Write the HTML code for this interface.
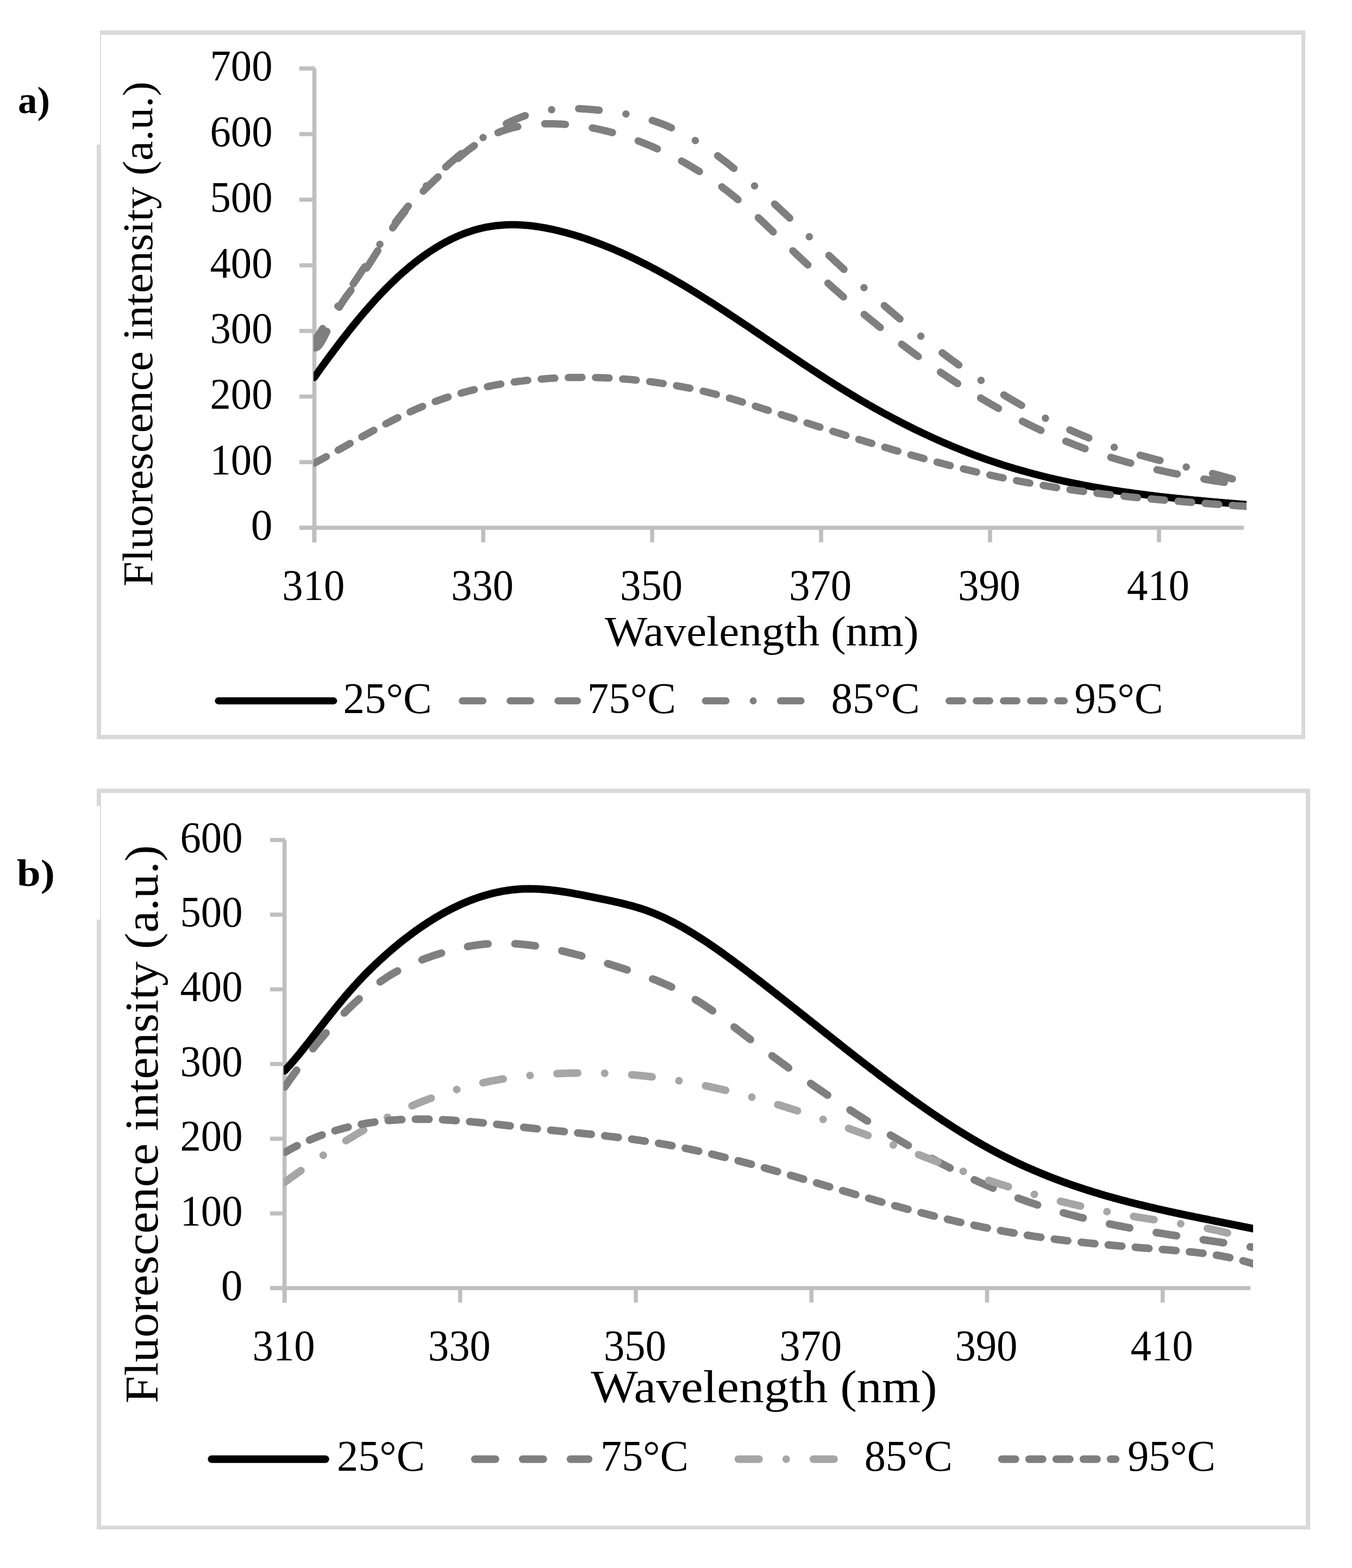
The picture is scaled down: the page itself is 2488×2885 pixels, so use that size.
<!DOCTYPE html>
<html><head><meta charset="utf-8"><title>Fluorescence spectra</title>
<style>html,body{margin:0;padding:0;background:#fff;overflow:hidden;}svg{display:block;}</style>
</head><body>
<svg width="2488" height="2885" viewBox="0 0 2488 2885" font-family="'Liberation Serif','Times New Roman',serif">
<rect width="2488" height="2885" fill="#fff"/>
<rect x="184" y="56" width="2218" height="8" fill="#d9d9d9"/>
<rect x="2395" y="56" width="7" height="1304" fill="#d9d9d9"/>
<rect x="178" y="1352" width="2224" height="8" fill="#d9d9d9"/>
<rect x="184" y="56" width="2" height="210" fill="#d9d9d9"/>
<rect x="178" y="266" width="8" height="1094" fill="#d9d9d9"/>
<rect x="178" y="1451" width="2233" height="8" fill="#d9d9d9"/>
<rect x="2403" y="1451" width="8" height="1363" fill="#d9d9d9"/>
<rect x="178" y="2807" width="2233" height="7" fill="#d9d9d9"/>
<rect x="178" y="1451" width="8" height="32" fill="#d9d9d9"/>
<rect x="184" y="1483" width="2" height="209" fill="#d9d9d9"/>
<rect x="178" y="1692" width="8" height="1122" fill="#d9d9d9"/>
<text x="33" y="207.5" font-size="70" text-anchor="start" font-weight="bold" textLength="59" lengthAdjust="spacingAndGlyphs">a)</text>
<text x="31" y="1630" font-size="70" text-anchor="start" font-weight="bold" textLength="70" lengthAdjust="spacingAndGlyphs">b)</text>
<line x1="578.5" y1="126.0" x2="578.5" y2="997.7" stroke="#bfbfbf" stroke-width="7.6"/>
<line x1="551" y1="971.0" x2="2289" y2="971.0" stroke="#bfbfbf" stroke-width="7.6"/>
<line x1="551" y1="971.0" x2="578.5" y2="971.0" stroke="#bfbfbf" stroke-width="7.6"/>
<line x1="551" y1="850.3" x2="578.5" y2="850.3" stroke="#bfbfbf" stroke-width="7.6"/>
<line x1="551" y1="729.6" x2="578.5" y2="729.6" stroke="#bfbfbf" stroke-width="7.6"/>
<line x1="551" y1="608.9" x2="578.5" y2="608.9" stroke="#bfbfbf" stroke-width="7.6"/>
<line x1="551" y1="488.2" x2="578.5" y2="488.2" stroke="#bfbfbf" stroke-width="7.6"/>
<line x1="551" y1="367.4" x2="578.5" y2="367.4" stroke="#bfbfbf" stroke-width="7.6"/>
<line x1="551" y1="246.7" x2="578.5" y2="246.7" stroke="#bfbfbf" stroke-width="7.6"/>
<line x1="551" y1="126.0" x2="579.5" y2="126.0" stroke="#bfbfbf" stroke-width="7.6"/>
<line x1="578.3" y1="971.0" x2="578.3" y2="997.7" stroke="#bfbfbf" stroke-width="7.6"/>
<line x1="889.2" y1="971.0" x2="889.2" y2="997.7" stroke="#bfbfbf" stroke-width="7.6"/>
<line x1="1200.1" y1="971.0" x2="1200.1" y2="997.7" stroke="#bfbfbf" stroke-width="7.6"/>
<line x1="1511.0" y1="971.0" x2="1511.0" y2="997.7" stroke="#bfbfbf" stroke-width="7.6"/>
<line x1="1821.9" y1="971.0" x2="1821.9" y2="997.7" stroke="#bfbfbf" stroke-width="7.6"/>
<line x1="2132.8" y1="971.0" x2="2132.8" y2="997.7" stroke="#bfbfbf" stroke-width="7.6"/>
<text x="501.5" y="993.3" font-size="79.5" text-anchor="end">0</text>
<text x="501.5" y="872.6" font-size="79.5" text-anchor="end" textLength="115" lengthAdjust="spacingAndGlyphs">100</text>
<text x="501.5" y="751.9" font-size="79.5" text-anchor="end" textLength="115" lengthAdjust="spacingAndGlyphs">200</text>
<text x="501.5" y="631.2" font-size="79.5" text-anchor="end" textLength="115" lengthAdjust="spacingAndGlyphs">300</text>
<text x="501.5" y="510.5" font-size="79.5" text-anchor="end" textLength="115" lengthAdjust="spacingAndGlyphs">400</text>
<text x="501.5" y="389.7" font-size="79.5" text-anchor="end" textLength="115" lengthAdjust="spacingAndGlyphs">500</text>
<text x="501.5" y="269.0" font-size="79.5" text-anchor="end" textLength="115" lengthAdjust="spacingAndGlyphs">600</text>
<text x="501.5" y="148.3" font-size="79.5" text-anchor="end" textLength="115" lengthAdjust="spacingAndGlyphs">700</text>
<text x="576.8" y="1104" font-size="79.5" text-anchor="middle" textLength="115" lengthAdjust="spacingAndGlyphs">310</text>
<text x="887.7" y="1104" font-size="79.5" text-anchor="middle" textLength="115" lengthAdjust="spacingAndGlyphs">330</text>
<text x="1198.6" y="1104" font-size="79.5" text-anchor="middle" textLength="115" lengthAdjust="spacingAndGlyphs">350</text>
<text x="1509.5" y="1104" font-size="79.5" text-anchor="middle" textLength="115" lengthAdjust="spacingAndGlyphs">370</text>
<text x="1820.4" y="1104" font-size="79.5" text-anchor="middle" textLength="115" lengthAdjust="spacingAndGlyphs">390</text>
<text x="2131.3" y="1104" font-size="79.5" text-anchor="middle" textLength="115" lengthAdjust="spacingAndGlyphs">410</text>
<clipPath id="ca"><rect x="577" y="100" width="1717" height="900"/></clipPath>
<g clip-path="url(#ca)" fill="none" stroke-linecap="round" stroke-linejoin="round" stroke-width="13.5">
<path d="M578.3,694.5 581.3,690.3 584.3,686.1 587.3,681.9 590.3,677.7 593.3,673.6 596.3,669.4 599.3,665.3 602.3,661.2 605.3,657.1 608.3,653.0 611.4,649.0 614.4,645.0 617.4,641.0 620.4,637.0 623.4,633.1 626.4,629.1 629.4,625.2 632.4,621.3 635.4,617.5 638.4,613.7 641.4,609.8 644.4,606.1 647.4,602.3 650.4,598.6 653.4,594.9 656.4,591.2 659.4,587.6 662.4,584.0 665.4,580.4 668.4,576.9 671.4,573.4 674.5,569.9 677.5,566.4 680.5,563.0 683.5,559.6 686.5,556.3 689.5,552.9 692.5,549.7 695.5,546.4 698.5,543.2 701.5,540.0 704.5,536.9 707.5,533.8 710.5,530.7 713.5,527.7 716.5,524.7 719.5,521.7 722.5,518.8 725.5,516.0 728.5,513.1 731.5,510.3 734.5,507.6 737.6,504.8 740.6,502.1 743.6,499.5 746.6,496.9 749.6,494.3 752.6,491.8 755.6,489.3 758.6,486.9 761.6,484.4 764.6,482.1 767.6,479.7 770.6,477.4 773.6,475.2 776.6,473.0 779.6,470.8 782.6,468.7 785.6,466.6 788.6,464.5 791.6,462.5 794.6,460.5 797.6,458.6 800.6,456.7 803.7,454.8 806.7,453.0 809.7,451.2 812.7,449.5 815.7,447.8 818.7,446.1 821.7,444.5 824.7,443.0 827.7,441.4 830.7,439.9 833.7,438.5 836.7,437.1 839.7,435.7 842.7,434.4 845.7,433.1 848.7,431.9 851.7,430.6 854.7,429.5 857.7,428.4 860.7,427.3 863.7,426.3 866.8,425.3 869.8,424.3 872.8,423.4 875.8,422.5 878.8,421.7 881.8,420.9 884.8,420.2 887.8,419.5 890.8,418.8 893.8,418.2 896.8,417.6 899.8,417.1 902.8,416.6 905.8,416.1 908.8,415.7 911.8,415.3 914.8,415.0 917.8,414.7 920.8,414.4 923.8,414.2 926.8,414.0 929.9,413.8 932.9,413.7 935.9,413.6 938.9,413.5 941.9,413.5 944.9,413.5 947.9,413.5 950.9,413.6 953.9,413.7 956.9,413.8 959.9,414.0 962.9,414.2 965.9,414.4 968.9,414.6 971.9,414.9 974.9,415.2 977.9,415.5 980.9,415.9 983.9,416.3 986.9,416.7 989.9,417.1 993.0,417.6 996.0,418.1 999.0,418.6 1002.0,419.1 1005.0,419.7 1008.0,420.3 1011.0,420.9 1014.0,421.5 1017.0,422.1 1020.0,422.8 1023.0,423.5 1026.0,424.2 1029.0,424.9 1032.0,425.7 1035.0,426.4 1038.0,427.2 1041.0,428.0 1044.0,428.8 1047.0,429.7 1050.0,430.5 1053.0,431.4 1056.1,432.3 1059.1,433.2 1062.1,434.1 1065.1,435.0 1068.1,436.0 1071.1,437.0 1074.1,437.9 1077.1,438.9 1080.1,440.0 1083.1,441.0 1086.1,442.0 1089.1,443.1 1092.1,444.2 1095.1,445.3 1098.1,446.4 1101.1,447.5 1104.1,448.7 1107.1,449.8 1110.1,451.0 1113.1,452.2 1116.1,453.4 1119.2,454.6 1122.2,455.8 1125.2,457.1 1128.2,458.3 1131.2,459.6 1134.2,460.9 1137.2,462.2 1140.2,463.5 1143.2,464.8 1146.2,466.2 1149.2,467.5 1152.2,468.9 1155.2,470.3 1158.2,471.7 1161.2,473.1 1164.2,474.5 1167.2,476.0 1170.2,477.4 1173.2,478.9 1176.2,480.4 1179.2,481.8 1182.3,483.4 1185.3,484.9 1188.3,486.4 1191.3,487.9 1194.3,489.5 1197.3,491.0 1200.3,492.6 1203.3,494.2 1206.3,495.8 1209.3,497.4 1212.3,499.0 1215.3,500.7 1218.3,502.3 1221.3,504.0 1224.3,505.6 1227.3,507.3 1230.3,509.0 1233.3,510.7 1236.3,512.4 1239.3,514.1 1242.3,515.8 1245.3,517.6 1248.4,519.3 1251.4,521.1 1254.4,522.9 1257.4,524.6 1260.4,526.4 1263.4,528.2 1266.4,530.0 1269.4,531.8 1272.4,533.7 1275.4,535.5 1278.4,537.4 1281.4,539.2 1284.4,541.1 1287.4,542.9 1290.4,544.8 1293.4,546.7 1296.4,548.6 1299.4,550.5 1302.4,552.4 1305.4,554.3 1308.4,556.2 1311.5,558.1 1314.5,560.0 1317.5,562.0 1320.5,563.9 1323.5,565.9 1326.5,567.8 1329.5,569.8 1332.5,571.7 1335.5,573.7 1338.5,575.7 1341.5,577.7 1344.5,579.6 1347.5,581.6 1350.5,583.6 1353.5,585.6 1356.5,587.6 1359.5,589.6 1362.5,591.6 1365.5,593.6 1368.5,595.6 1371.5,597.7 1374.6,599.7 1377.6,601.7 1380.6,603.7 1383.6,605.7 1386.6,607.8 1389.6,609.8 1392.6,611.8 1395.6,613.9 1398.6,615.9 1401.6,617.9 1404.6,620.0 1407.6,622.0 1410.6,624.0 1413.6,626.1 1416.6,628.1 1419.6,630.1 1422.6,632.2 1425.6,634.2 1428.6,636.2 1431.6,638.3 1434.6,640.3 1437.7,642.3 1440.7,644.4 1443.7,646.4 1446.7,648.4 1449.7,650.4 1452.7,652.5 1455.7,654.5 1458.7,656.5 1461.7,658.5 1464.7,660.5 1467.7,662.5 1470.7,664.6 1473.7,666.6 1476.7,668.6 1479.7,670.6 1482.7,672.5 1485.7,674.5 1488.7,676.5 1491.7,678.5 1494.7,680.5 1497.7,682.4 1500.8,684.4 1503.8,686.4 1506.8,688.3 1509.8,690.3 1512.8,692.2 1515.8,694.2 1518.8,696.1 1521.8,698.0 1524.8,700.0 1527.8,701.9 1530.8,703.8 1533.8,705.7 1536.8,707.6 1539.8,709.5 1542.8,711.3 1545.8,713.2 1548.8,715.1 1551.8,716.9 1554.8,718.8 1557.8,720.6 1560.8,722.4 1563.9,724.3 1566.9,726.1 1569.9,727.9 1572.9,729.7 1575.9,731.5 1578.9,733.3 1581.9,735.0 1584.9,736.8 1587.9,738.5 1590.9,740.3 1593.9,742.0 1596.9,743.8 1599.9,745.5 1602.9,747.2 1605.9,748.9 1608.9,750.6 1611.9,752.3 1614.9,753.9 1617.9,755.6 1620.9,757.3 1623.9,758.9 1627.0,760.6 1630.0,762.2 1633.0,763.8 1636.0,765.4 1639.0,767.0 1642.0,768.6 1645.0,770.2 1648.0,771.8 1651.0,773.4 1654.0,774.9 1657.0,776.5 1660.0,778.0 1663.0,779.6 1666.0,781.1 1669.0,782.6 1672.0,784.1 1675.0,785.6 1678.0,787.1 1681.0,788.6 1684.0,790.1 1687.0,791.5 1690.0,793.0 1693.1,794.4 1696.1,795.9 1699.1,797.3 1702.1,798.7 1705.1,800.1 1708.1,801.5 1711.1,802.9 1714.1,804.3 1717.1,805.6 1720.1,807.0 1723.1,808.4 1726.1,809.7 1729.1,811.0 1732.1,812.4 1735.1,813.7 1738.1,815.0 1741.1,816.3 1744.1,817.6 1747.1,818.8 1750.1,820.1 1753.1,821.4 1756.2,822.6 1759.2,823.9 1762.2,825.1 1765.2,826.3 1768.2,827.5 1771.2,828.7 1774.2,829.9 1777.2,831.1 1780.2,832.3 1783.2,833.4 1786.2,834.6 1789.2,835.7 1792.2,836.9 1795.2,838.0 1798.2,839.1 1801.2,840.2 1804.2,841.3 1807.2,842.4 1810.2,843.5 1813.2,844.5 1816.2,845.6 1819.3,846.6 1822.3,847.7 1825.3,848.7 1828.3,849.7 1831.3,850.7 1834.3,851.7 1837.3,852.7 1840.3,853.7 1843.3,854.7 1846.3,855.6 1849.3,856.6 1852.3,857.5 1855.3,858.4 1858.3,859.4 1861.3,860.3 1864.3,861.2 1867.3,862.1 1870.3,863.0 1873.3,863.8 1876.3,864.7 1879.3,865.6 1882.4,866.4 1885.4,867.3 1888.4,868.1 1891.4,868.9 1894.4,869.8 1897.4,870.6 1900.4,871.4 1903.4,872.2 1906.4,872.9 1909.4,873.7 1912.4,874.5 1915.4,875.3 1918.4,876.0 1921.4,876.8 1924.4,877.5 1927.4,878.2 1930.4,879.0 1933.4,879.7 1936.4,880.4 1939.4,881.1 1942.4,881.8 1945.5,882.5 1948.5,883.1 1951.5,883.8 1954.5,884.5 1957.5,885.1 1960.5,885.8 1963.5,886.4 1966.5,887.1 1969.5,887.7 1972.5,888.3 1975.5,888.9 1978.5,889.5 1981.5,890.1 1984.5,890.7 1987.5,891.3 1990.5,891.9 1993.5,892.5 1996.5,893.1 1999.5,893.6 2002.5,894.2 2005.5,894.7 2008.6,895.3 2011.6,895.8 2014.6,896.4 2017.6,896.9 2020.6,897.4 2023.6,897.9 2026.6,898.4 2029.6,898.9 2032.6,899.4 2035.6,899.9 2038.6,900.4 2041.6,900.9 2044.6,901.4 2047.6,901.9 2050.6,902.3 2053.6,902.8 2056.6,903.2 2059.6,903.7 2062.6,904.1 2065.6,904.6 2068.6,905.0 2071.7,905.5 2074.7,905.9 2077.7,906.3 2080.7,906.7 2083.7,907.1 2086.7,907.6 2089.7,908.0 2092.7,908.4 2095.7,908.8 2098.7,909.2 2101.7,909.5 2104.7,909.9 2107.7,910.3 2110.7,910.7 2113.7,911.1 2116.7,911.4 2119.7,911.8 2122.7,912.2 2125.7,912.5 2128.7,912.9 2131.7,913.2 2134.7,913.6 2137.8,913.9 2140.8,914.2 2143.8,914.6 2146.8,914.9 2149.8,915.3 2152.8,915.6 2155.8,915.9 2158.8,916.2 2161.8,916.5 2164.8,916.9 2167.8,917.2 2170.8,917.5 2173.8,917.8 2176.8,918.1 2179.8,918.4 2182.8,918.7 2185.8,919.0 2188.8,919.3 2191.8,919.6 2194.8,919.9 2197.8,920.2 2200.9,920.4 2203.9,920.7 2206.9,921.0 2209.9,921.3 2212.9,921.6 2215.9,921.8 2218.9,922.1 2221.9,922.4 2224.9,922.7 2227.9,922.9 2230.9,923.2 2233.9,923.5 2236.9,923.7 2239.9,924.0 2242.9,924.3 2245.9,924.5 2248.9,924.8 2251.9,925.0 2254.9,925.3 2257.9,925.5 2260.9,925.8 2264.0,926.1 2267.0,926.3 2270.0,926.6 2273.0,926.8 2276.0,927.1 2279.0,927.3 2282.0,927.6 2285.0,927.8 2288.0,928.1 2291.0,928.3 2294.0,928.6" stroke="#000"/>
<path d="M578.3,640.0 581.3,640.0 584.3,638.3 587.3,635.3 590.3,631.1 593.3,626.1 596.3,620.4 599.3,614.3 602.3,608.1 605.3,601.8 608.3,595.7 611.4,589.6 614.4,583.7 617.4,577.9 620.4,572.3 623.4,567.0 626.4,561.9 629.4,557.1 632.4,552.5 635.4,548.2 638.4,544.0 641.4,540.0 644.4,536.0 647.4,532.1 650.4,528.1 653.4,524.1 656.4,520.0 659.4,515.8 662.4,511.5 665.4,507.1 668.4,502.6 671.4,498.1 674.5,493.6 677.5,489.0 680.5,484.3 683.5,479.6 686.5,474.9 689.5,470.2 692.5,465.4 695.5,460.7 698.5,456.0 701.5,451.3 704.5,446.6 707.5,441.9 710.5,437.3 713.5,432.7 716.5,428.2 719.5,423.8 722.5,419.4 725.5,415.1 728.5,410.9 731.5,406.8 734.5,402.7 737.6,398.8 740.6,394.9 743.6,391.2 746.6,387.5 749.6,383.8 752.6,380.3 755.6,376.8 758.6,373.4 761.6,370.1 764.6,366.8 767.6,363.5 770.6,360.3 773.6,357.2 776.6,354.1 779.6,351.1 782.6,348.1 785.6,345.1 788.6,342.1 791.6,339.2 794.6,336.3 797.6,333.4 800.6,330.6 803.7,327.7 806.7,324.9 809.7,322.1 812.7,319.2 815.7,316.4 818.7,313.6 821.7,310.8 824.7,308.0 827.7,305.2 830.7,302.5 833.7,299.8 836.7,297.1 839.7,294.4 842.7,291.8 845.7,289.2 848.7,286.6 851.7,284.1 854.7,281.6 857.7,279.2 860.7,276.8 863.7,274.5 866.8,272.3 869.8,270.1 872.8,267.9 875.8,265.8 878.8,263.8 881.8,261.9 884.8,260.0 887.8,258.2 890.8,256.5 893.8,254.8 896.8,253.2 899.8,251.6 902.8,250.1 905.8,248.7 908.8,247.3 911.8,246.0 914.8,244.7 917.8,243.5 920.8,242.3 923.8,241.2 926.8,240.2 929.9,239.1 932.9,238.2 935.9,237.3 938.9,236.4 941.9,235.6 944.9,234.8 947.9,234.1 950.9,233.4 953.9,232.8 956.9,232.2 959.9,231.7 962.9,231.1 965.9,230.7 968.9,230.2 971.9,229.8 974.9,229.5 977.9,229.2 980.9,228.9 983.9,228.6 986.9,228.4 989.9,228.2 993.0,228.0 996.0,227.9 999.0,227.8 1002.0,227.7 1005.0,227.7 1008.0,227.7 1011.0,227.7 1014.0,227.7 1017.0,227.8 1020.0,227.8 1023.0,227.9 1026.0,228.1 1029.0,228.2 1032.0,228.3 1035.0,228.5 1038.0,228.7 1041.0,228.9 1044.0,229.2 1047.0,229.4 1050.0,229.7 1053.0,230.0 1056.1,230.4 1059.1,230.7 1062.1,231.1 1065.1,231.4 1068.1,231.8 1071.1,232.3 1074.1,232.7 1077.1,233.2 1080.1,233.7 1083.1,234.2 1086.1,234.7 1089.1,235.3 1092.1,235.8 1095.1,236.4 1098.1,237.0 1101.1,237.7 1104.1,238.3 1107.1,239.0 1110.1,239.7 1113.1,240.4 1116.1,241.1 1119.2,241.9 1122.2,242.6 1125.2,243.4 1128.2,244.2 1131.2,245.1 1134.2,245.9 1137.2,246.8 1140.2,247.7 1143.2,248.6 1146.2,249.5 1149.2,250.5 1152.2,251.4 1155.2,252.4 1158.2,253.4 1161.2,254.5 1164.2,255.5 1167.2,256.6 1170.2,257.7 1173.2,258.8 1176.2,259.9 1179.2,261.1 1182.3,262.3 1185.3,263.5 1188.3,264.7 1191.3,265.9 1194.3,267.2 1197.3,268.4 1200.3,269.7 1203.3,271.0 1206.3,272.4 1209.3,273.7 1212.3,275.1 1215.3,276.5 1218.3,277.9 1221.3,279.3 1224.3,280.8 1227.3,282.2 1230.3,283.7 1233.3,285.2 1236.3,286.8 1239.3,288.3 1242.3,289.9 1245.3,291.5 1248.4,293.1 1251.4,294.7 1254.4,296.3 1257.4,298.0 1260.4,299.7 1263.4,301.4 1266.4,303.1 1269.4,304.9 1272.4,306.6 1275.4,308.4 1278.4,310.2 1281.4,312.1 1284.4,313.9 1287.4,315.8 1290.4,317.7 1293.4,319.6 1296.4,321.6 1299.4,323.6 1302.4,325.6 1305.4,327.6 1308.4,329.6 1311.5,331.7 1314.5,333.8 1317.5,335.9 1320.5,338.1 1323.5,340.3 1326.5,342.5 1329.5,344.7 1332.5,347.0 1335.5,349.2 1338.5,351.5 1341.5,353.9 1344.5,356.3 1347.5,358.7 1350.5,361.1 1353.5,363.5 1356.5,366.0 1359.5,368.5 1362.5,371.1 1365.5,373.6 1368.5,376.2 1371.5,378.9 1374.6,381.5 1377.6,384.2 1380.6,386.9 1383.6,389.6 1386.6,392.4 1389.6,395.1 1392.6,397.9 1395.6,400.7 1398.6,403.5 1401.6,406.3 1404.6,409.2 1407.6,412.0 1410.6,414.9 1413.6,417.8 1416.6,420.6 1419.6,423.5 1422.6,426.4 1425.6,429.3 1428.6,432.2 1431.6,435.1 1434.6,438.0 1437.7,440.9 1440.7,443.8 1443.7,446.7 1446.7,449.6 1449.7,452.5 1452.7,455.4 1455.7,458.3 1458.7,461.1 1461.7,464.0 1464.7,466.9 1467.7,469.7 1470.7,472.5 1473.7,475.4 1476.7,478.2 1479.7,481.0 1482.7,483.8 1485.7,486.6 1488.7,489.4 1491.7,492.1 1494.7,494.9 1497.7,497.7 1500.8,500.4 1503.8,503.2 1506.8,505.9 1509.8,508.6 1512.8,511.3 1515.8,514.1 1518.8,516.8 1521.8,519.4 1524.8,522.1 1527.8,524.8 1530.8,527.5 1533.8,530.1 1536.8,532.8 1539.8,535.4 1542.8,538.0 1545.8,540.7 1548.8,543.3 1551.8,545.9 1554.8,548.5 1557.8,551.1 1560.8,553.6 1563.9,556.2 1566.9,558.8 1569.9,561.3 1572.9,563.9 1575.9,566.4 1578.9,568.9 1581.9,571.5 1584.9,574.0 1587.9,576.5 1590.9,579.0 1593.9,581.4 1596.9,583.9 1599.9,586.4 1602.9,588.8 1605.9,591.3 1608.9,593.7 1611.9,596.1 1614.9,598.6 1617.9,601.0 1620.9,603.4 1623.9,605.8 1627.0,608.2 1630.0,610.5 1633.0,612.9 1636.0,615.3 1639.0,617.6 1642.0,619.9 1645.0,622.3 1648.0,624.6 1651.0,626.9 1654.0,629.2 1657.0,631.5 1660.0,633.8 1663.0,636.1 1666.0,638.3 1669.0,640.6 1672.0,642.8 1675.0,645.1 1678.0,647.3 1681.0,649.5 1684.0,651.7 1687.0,653.9 1690.0,656.1 1693.1,658.3 1696.1,660.5 1699.1,662.6 1702.1,664.8 1705.1,666.9 1708.1,669.1 1711.1,671.2 1714.1,673.3 1717.1,675.4 1720.1,677.5 1723.1,679.6 1726.1,681.7 1729.1,683.7 1732.1,685.8 1735.1,687.8 1738.1,689.9 1741.1,691.9 1744.1,693.9 1747.1,695.9 1750.1,697.9 1753.1,699.9 1756.2,701.9 1759.2,703.8 1762.2,705.8 1765.2,707.7 1768.2,709.7 1771.2,711.6 1774.2,713.5 1777.2,715.4 1780.2,717.3 1783.2,719.2 1786.2,721.1 1789.2,722.9 1792.2,724.8 1795.2,726.6 1798.2,728.5 1801.2,730.3 1804.2,732.1 1807.2,733.9 1810.2,735.7 1813.2,737.5 1816.2,739.3 1819.3,741.0 1822.3,742.8 1825.3,744.5 1828.3,746.2 1831.3,748.0 1834.3,749.7 1837.3,751.4 1840.3,753.1 1843.3,754.7 1846.3,756.4 1849.3,758.0 1852.3,759.7 1855.3,761.3 1858.3,762.9 1861.3,764.6 1864.3,766.2 1867.3,767.8 1870.3,769.3 1873.3,770.9 1876.3,772.5 1879.3,774.0 1882.4,775.5 1885.4,777.1 1888.4,778.6 1891.4,780.1 1894.4,781.6 1897.4,783.0 1900.4,784.5 1903.4,786.0 1906.4,787.4 1909.4,788.8 1912.4,790.3 1915.4,791.7 1918.4,793.1 1921.4,794.5 1924.4,795.9 1927.4,797.2 1930.4,798.6 1933.4,799.9 1936.4,801.3 1939.4,802.6 1942.4,803.9 1945.5,805.2 1948.5,806.5 1951.5,807.7 1954.5,809.0 1957.5,810.3 1960.5,811.5 1963.5,812.7 1966.5,813.9 1969.5,815.1 1972.5,816.3 1975.5,817.5 1978.5,818.7 1981.5,819.9 1984.5,821.0 1987.5,822.1 1990.5,823.3 1993.5,824.4 1996.5,825.5 1999.5,826.6 2002.5,827.6 2005.5,828.7 2008.6,829.8 2011.6,830.8 2014.6,831.8 2017.6,832.9 2020.6,833.9 2023.6,834.9 2026.6,835.9 2029.6,836.9 2032.6,837.8 2035.6,838.8 2038.6,839.8 2041.6,840.7 2044.6,841.6 2047.6,842.6 2050.6,843.5 2053.6,844.4 2056.6,845.3 2059.6,846.2 2062.6,847.0 2065.6,847.9 2068.6,848.8 2071.7,849.6 2074.7,850.5 2077.7,851.3 2080.7,852.1 2083.7,852.9 2086.7,853.7 2089.7,854.5 2092.7,855.3 2095.7,856.1 2098.7,856.9 2101.7,857.6 2104.7,858.4 2107.7,859.1 2110.7,859.9 2113.7,860.6 2116.7,861.3 2119.7,862.0 2122.7,862.8 2125.7,863.5 2128.7,864.1 2131.7,864.8 2134.7,865.5 2137.8,866.2 2140.8,866.9 2143.8,867.5 2146.8,868.2 2149.8,868.8 2152.8,869.4 2155.8,870.1 2158.8,870.7 2161.8,871.3 2164.8,871.9 2167.8,872.5 2170.8,873.1 2173.8,873.7 2176.8,874.3 2179.8,874.9 2182.8,875.5 2185.8,876.1 2188.8,876.6 2191.8,877.2 2194.8,877.7 2197.8,878.3 2200.9,878.8 2203.9,879.4 2206.9,879.9 2209.9,880.4 2212.9,881.0 2215.9,881.5 2218.9,882.0 2221.9,882.5 2224.9,883.0 2227.9,883.5 2230.9,884.0 2233.9,884.5 2236.9,885.0 2239.9,885.5 2242.9,885.9 2245.9,886.4 2248.9,886.9 2251.9,887.4 2254.9,887.8 2257.9,888.3 2260.9,888.7 2264.0,889.2 2267.0,889.6 2270.0,890.1 2273.0,890.5 2276.0,891.0 2279.0,891.4 2282.0,891.9 2285.0,892.3 2288.0,892.7 2291.0,893.1 2294.0,893.6" stroke="#7f7f7f" stroke-dasharray="38 50" stroke-dashoffset="86.0"/>
<path d="M578.3,627.9 581.3,623.3 584.3,618.7 587.3,614.2 590.3,609.7 593.3,605.2 596.3,600.7 599.3,596.3 602.3,591.8 605.3,587.4 608.3,583.0 611.4,578.7 614.4,574.3 617.4,569.9 620.4,565.6 623.4,561.2 626.4,556.9 629.4,552.6 632.4,548.2 635.4,543.9 638.4,539.5 641.4,535.1 644.4,530.8 647.4,526.4 650.4,521.9 653.4,517.5 656.4,513.1 659.4,508.6 662.4,504.1 665.4,499.6 668.4,495.1 671.4,490.6 674.5,486.1 677.5,481.6 680.5,477.1 683.5,472.6 686.5,468.1 689.5,463.6 692.5,459.2 695.5,454.7 698.5,450.3 701.5,445.9 704.5,441.6 707.5,437.2 710.5,432.9 713.5,428.7 716.5,424.4 719.5,420.2 722.5,416.1 725.5,412.0 728.5,408.0 731.5,404.0 734.5,400.1 737.6,396.2 740.6,392.4 743.6,388.6 746.6,384.9 749.6,381.2 752.6,377.6 755.6,374.0 758.6,370.5 761.6,367.0 764.6,363.6 767.6,360.2 770.6,356.9 773.6,353.6 776.6,350.3 779.6,347.1 782.6,343.9 785.6,340.8 788.6,337.7 791.6,334.6 794.6,331.6 797.6,328.6 800.6,325.7 803.7,322.8 806.7,319.9 809.7,317.0 812.7,314.2 815.7,311.4 818.7,308.7 821.7,306.0 824.7,303.3 827.7,300.6 830.7,298.0 833.7,295.4 836.7,292.8 839.7,290.3 842.7,287.8 845.7,285.3 848.7,282.9 851.7,280.5 854.7,278.1 857.7,275.8 860.7,273.4 863.7,271.1 866.8,268.9 869.8,266.6 872.8,264.4 875.8,262.3 878.8,260.1 881.8,258.0 884.8,255.9 887.8,253.8 890.8,251.8 893.8,249.8 896.8,247.9 899.8,245.9 902.8,244.0 905.8,242.2 908.8,240.4 911.8,238.6 914.8,236.8 917.8,235.1 920.8,233.4 923.8,231.8 926.8,230.1 929.9,228.6 932.9,227.1 935.9,225.6 938.9,224.1 941.9,222.7 944.9,221.3 947.9,220.0 950.9,218.7 953.9,217.5 956.9,216.3 959.9,215.2 962.9,214.1 965.9,213.0 968.9,212.0 971.9,211.0 974.9,210.1 977.9,209.2 980.9,208.4 983.9,207.6 986.9,206.9 989.9,206.2 993.0,205.5 996.0,204.9 999.0,204.3 1002.0,203.8 1005.0,203.3 1008.0,202.8 1011.0,202.4 1014.0,202.0 1017.0,201.6 1020.0,201.3 1023.0,201.0 1026.0,200.7 1029.0,200.5 1032.0,200.3 1035.0,200.1 1038.0,200.0 1041.0,199.9 1044.0,199.8 1047.0,199.8 1050.0,199.7 1053.0,199.7 1056.1,199.8 1059.1,199.8 1062.1,199.9 1065.1,200.0 1068.1,200.1 1071.1,200.2 1074.1,200.4 1077.1,200.5 1080.1,200.7 1083.1,201.0 1086.1,201.2 1089.1,201.4 1092.1,201.7 1095.1,202.0 1098.1,202.3 1101.1,202.6 1104.1,202.9 1107.1,203.2 1110.1,203.5 1113.1,203.9 1116.1,204.2 1119.2,204.6 1122.2,205.0 1125.2,205.4 1128.2,205.8 1131.2,206.3 1134.2,206.7 1137.2,207.2 1140.2,207.6 1143.2,208.1 1146.2,208.6 1149.2,209.2 1152.2,209.7 1155.2,210.3 1158.2,210.9 1161.2,211.5 1164.2,212.1 1167.2,212.8 1170.2,213.5 1173.2,214.2 1176.2,214.9 1179.2,215.6 1182.3,216.4 1185.3,217.2 1188.3,218.1 1191.3,218.9 1194.3,219.8 1197.3,220.7 1200.3,221.6 1203.3,222.6 1206.3,223.6 1209.3,224.7 1212.3,225.7 1215.3,226.8 1218.3,227.9 1221.3,229.1 1224.3,230.3 1227.3,231.5 1230.3,232.8 1233.3,234.1 1236.3,235.4 1239.3,236.8 1242.3,238.2 1245.3,239.7 1248.4,241.2 1251.4,242.7 1254.4,244.2 1257.4,245.8 1260.4,247.5 1263.4,249.1 1266.4,250.8 1269.4,252.6 1272.4,254.3 1275.4,256.1 1278.4,257.9 1281.4,259.8 1284.4,261.7 1287.4,263.6 1290.4,265.6 1293.4,267.5 1296.4,269.5 1299.4,271.6 1302.4,273.6 1305.4,275.7 1308.4,277.8 1311.5,279.9 1314.5,282.1 1317.5,284.3 1320.5,286.5 1323.5,288.7 1326.5,291.0 1329.5,293.3 1332.5,295.6 1335.5,297.9 1338.5,300.2 1341.5,302.6 1344.5,305.0 1347.5,307.4 1350.5,309.8 1353.5,312.2 1356.5,314.7 1359.5,317.2 1362.5,319.7 1365.5,322.2 1368.5,324.7 1371.5,327.3 1374.6,329.8 1377.6,332.4 1380.6,335.0 1383.6,337.6 1386.6,340.2 1389.6,342.9 1392.6,345.5 1395.6,348.2 1398.6,350.9 1401.6,353.6 1404.6,356.3 1407.6,359.0 1410.6,361.7 1413.6,364.4 1416.6,367.2 1419.6,369.9 1422.6,372.7 1425.6,375.5 1428.6,378.3 1431.6,381.1 1434.6,383.9 1437.7,386.7 1440.7,389.5 1443.7,392.3 1446.7,395.1 1449.7,397.9 1452.7,400.8 1455.7,403.6 1458.7,406.5 1461.7,409.3 1464.7,412.2 1467.7,415.0 1470.7,417.9 1473.7,420.7 1476.7,423.6 1479.7,426.5 1482.7,429.3 1485.7,432.2 1488.7,435.0 1491.7,437.9 1494.7,440.8 1497.7,443.6 1500.8,446.5 1503.8,449.4 1506.8,452.2 1509.8,455.1 1512.8,457.9 1515.8,460.8 1518.8,463.6 1521.8,466.4 1524.8,469.3 1527.8,472.1 1530.8,474.9 1533.8,477.7 1536.8,480.5 1539.8,483.3 1542.8,486.1 1545.8,488.9 1548.8,491.7 1551.8,494.5 1554.8,497.3 1557.8,500.1 1560.8,502.8 1563.9,505.6 1566.9,508.3 1569.9,511.1 1572.9,513.8 1575.9,516.6 1578.9,519.3 1581.9,522.0 1584.9,524.7 1587.9,527.4 1590.9,530.1 1593.9,532.8 1596.9,535.5 1599.9,538.2 1602.9,540.9 1605.9,543.5 1608.9,546.2 1611.9,548.8 1614.9,551.5 1617.9,554.1 1620.9,556.7 1623.9,559.4 1627.0,562.0 1630.0,564.6 1633.0,567.2 1636.0,569.8 1639.0,572.3 1642.0,574.9 1645.0,577.5 1648.0,580.0 1651.0,582.6 1654.0,585.1 1657.0,587.6 1660.0,590.2 1663.0,592.7 1666.0,595.2 1669.0,597.7 1672.0,600.1 1675.0,602.6 1678.0,605.1 1681.0,607.5 1684.0,610.0 1687.0,612.4 1690.0,614.8 1693.1,617.3 1696.1,619.7 1699.1,622.1 1702.1,624.5 1705.1,626.8 1708.1,629.2 1711.1,631.6 1714.1,633.9 1717.1,636.2 1720.1,638.6 1723.1,640.9 1726.1,643.2 1729.1,645.5 1732.1,647.8 1735.1,650.0 1738.1,652.3 1741.1,654.5 1744.1,656.8 1747.1,659.0 1750.1,661.2 1753.1,663.4 1756.2,665.6 1759.2,667.8 1762.2,670.0 1765.2,672.1 1768.2,674.3 1771.2,676.4 1774.2,678.5 1777.2,680.6 1780.2,682.8 1783.2,684.8 1786.2,686.9 1789.2,689.0 1792.2,691.0 1795.2,693.1 1798.2,695.1 1801.2,697.1 1804.2,699.1 1807.2,701.1 1810.2,703.1 1813.2,705.1 1816.2,707.1 1819.3,709.0 1822.3,710.9 1825.3,712.9 1828.3,714.8 1831.3,716.7 1834.3,718.6 1837.3,720.5 1840.3,722.3 1843.3,724.2 1846.3,726.0 1849.3,727.9 1852.3,729.7 1855.3,731.5 1858.3,733.3 1861.3,735.1 1864.3,736.8 1867.3,738.6 1870.3,740.4 1873.3,742.1 1876.3,743.8 1879.3,745.5 1882.4,747.2 1885.4,748.9 1888.4,750.6 1891.4,752.3 1894.4,753.9 1897.4,755.6 1900.4,757.2 1903.4,758.8 1906.4,760.4 1909.4,762.0 1912.4,763.6 1915.4,765.2 1918.4,766.7 1921.4,768.3 1924.4,769.8 1927.4,771.3 1930.4,772.8 1933.4,774.3 1936.4,775.8 1939.4,777.3 1942.4,778.7 1945.5,780.2 1948.5,781.6 1951.5,783.0 1954.5,784.4 1957.5,785.8 1960.5,787.2 1963.5,788.6 1966.5,790.0 1969.5,791.3 1972.5,792.6 1975.5,794.0 1978.5,795.3 1981.5,796.6 1984.5,797.9 1987.5,799.1 1990.5,800.4 1993.5,801.7 1996.5,802.9 1999.5,804.1 2002.5,805.3 2005.5,806.5 2008.6,807.7 2011.6,808.9 2014.6,810.0 2017.6,811.2 2020.6,812.3 2023.6,813.5 2026.6,814.6 2029.6,815.7 2032.6,816.8 2035.6,817.8 2038.6,818.9 2041.6,819.9 2044.6,821.0 2047.6,822.0 2050.6,823.0 2053.6,824.0 2056.6,825.0 2059.6,826.0 2062.6,826.9 2065.6,827.9 2068.6,828.8 2071.7,829.7 2074.7,830.7 2077.7,831.6 2080.7,832.5 2083.7,833.4 2086.7,834.2 2089.7,835.1 2092.7,836.0 2095.7,836.8 2098.7,837.7 2101.7,838.5 2104.7,839.3 2107.7,840.1 2110.7,840.9 2113.7,841.8 2116.7,842.6 2119.7,843.3 2122.7,844.1 2125.7,844.9 2128.7,845.7 2131.7,846.5 2134.7,847.2 2137.8,848.0 2140.8,848.8 2143.8,849.5 2146.8,850.3 2149.8,851.0 2152.8,851.8 2155.8,852.5 2158.8,853.2 2161.8,854.0 2164.8,854.7 2167.8,855.5 2170.8,856.2 2173.8,856.9 2176.8,857.7 2179.8,858.4 2182.8,859.1 2185.8,859.9 2188.8,860.6 2191.8,861.3 2194.8,862.1 2197.8,862.8 2200.9,863.5 2203.9,864.3 2206.9,865.0 2209.9,865.8 2212.9,866.5 2215.9,867.3 2218.9,868.0 2221.9,868.8 2224.9,869.6 2227.9,870.3 2230.9,871.1 2233.9,871.9 2236.9,872.7 2239.9,873.5 2242.9,874.3 2245.9,875.1 2248.9,875.9 2251.9,876.7 2254.9,877.5 2257.9,878.4 2260.9,879.2 2264.0,880.1 2267.0,880.9 2270.0,881.8 2273.0,882.7 2276.0,883.5 2279.0,884.4 2282.0,885.3 2285.0,886.3 2288.0,887.2 2291.0,888.1 2294.0,889.1" stroke="#7f7f7f" stroke-dasharray="37.86 49.82 0.01 49.82" stroke-dashoffset="9.8"/>
<path d="M578.3,852.2 581.3,850.6 584.3,849.0 587.3,847.4 590.3,845.8 593.3,844.1 596.3,842.5 599.3,840.9 602.3,839.2 605.3,837.6 608.3,835.9 611.4,834.2 614.4,832.6 617.4,830.9 620.4,829.2 623.4,827.6 626.4,825.9 629.4,824.2 632.4,822.5 635.4,820.8 638.4,819.1 641.4,817.4 644.4,815.8 647.4,814.1 650.4,812.4 653.4,810.7 656.4,809.0 659.4,807.3 662.4,805.7 665.4,804.0 668.4,802.3 671.4,800.7 674.5,799.0 677.5,797.3 680.5,795.7 683.5,794.1 686.5,792.4 689.5,790.8 692.5,789.2 695.5,787.5 698.5,785.9 701.5,784.3 704.5,782.7 707.5,781.2 710.5,779.6 713.5,778.0 716.5,776.5 719.5,774.9 722.5,773.4 725.5,771.9 728.5,770.4 731.5,768.9 734.5,767.4 737.6,765.9 740.6,764.5 743.6,763.0 746.6,761.6 749.6,760.2 752.6,758.8 755.6,757.4 758.6,756.1 761.6,754.7 764.6,753.4 767.6,752.1 770.6,750.8 773.6,749.5 776.6,748.3 779.6,747.0 782.6,745.8 785.6,744.6 788.6,743.4 791.6,742.3 794.6,741.1 797.6,740.0 800.6,738.9 803.7,737.8 806.7,736.7 809.7,735.6 812.7,734.6 815.7,733.5 818.7,732.5 821.7,731.5 824.7,730.5 827.7,729.6 830.7,728.6 833.7,727.7 836.7,726.7 839.7,725.8 842.7,724.9 845.7,724.1 848.7,723.2 851.7,722.4 854.7,721.5 857.7,720.7 860.7,719.9 863.7,719.1 866.8,718.4 869.8,717.6 872.8,716.9 875.8,716.1 878.8,715.4 881.8,714.7 884.8,714.0 887.8,713.4 890.8,712.7 893.8,712.0 896.8,711.4 899.8,710.8 902.8,710.2 905.8,709.6 908.8,709.0 911.8,708.4 914.8,707.9 917.8,707.4 920.8,706.8 923.8,706.3 926.8,705.8 929.9,705.3 932.9,704.8 935.9,704.4 938.9,703.9 941.9,703.5 944.9,703.0 947.9,702.6 950.9,702.2 953.9,701.8 956.9,701.4 959.9,701.1 962.9,700.7 965.9,700.3 968.9,700.0 971.9,699.7 974.9,699.4 977.9,699.1 980.9,698.8 983.9,698.5 986.9,698.2 989.9,697.9 993.0,697.7 996.0,697.4 999.0,697.2 1002.0,697.0 1005.0,696.7 1008.0,696.5 1011.0,696.3 1014.0,696.1 1017.0,696.0 1020.0,695.8 1023.0,695.6 1026.0,695.5 1029.0,695.3 1032.0,695.2 1035.0,695.1 1038.0,695.0 1041.0,694.9 1044.0,694.8 1047.0,694.7 1050.0,694.6 1053.0,694.5 1056.1,694.5 1059.1,694.4 1062.1,694.4 1065.1,694.4 1068.1,694.4 1071.1,694.3 1074.1,694.3 1077.1,694.4 1080.1,694.4 1083.1,694.4 1086.1,694.4 1089.1,694.5 1092.1,694.5 1095.1,694.6 1098.1,694.7 1101.1,694.8 1104.1,694.9 1107.1,695.0 1110.1,695.1 1113.1,695.2 1116.1,695.3 1119.2,695.5 1122.2,695.6 1125.2,695.8 1128.2,695.9 1131.2,696.1 1134.2,696.3 1137.2,696.5 1140.2,696.7 1143.2,696.9 1146.2,697.2 1149.2,697.4 1152.2,697.6 1155.2,697.9 1158.2,698.1 1161.2,698.4 1164.2,698.7 1167.2,699.0 1170.2,699.3 1173.2,699.6 1176.2,699.9 1179.2,700.2 1182.3,700.6 1185.3,700.9 1188.3,701.3 1191.3,701.6 1194.3,702.0 1197.3,702.4 1200.3,702.8 1203.3,703.2 1206.3,703.6 1209.3,704.0 1212.3,704.4 1215.3,704.9 1218.3,705.3 1221.3,705.8 1224.3,706.2 1227.3,706.7 1230.3,707.2 1233.3,707.7 1236.3,708.2 1239.3,708.7 1242.3,709.2 1245.3,709.8 1248.4,710.3 1251.4,710.9 1254.4,711.4 1257.4,712.0 1260.4,712.6 1263.4,713.1 1266.4,713.7 1269.4,714.3 1272.4,715.0 1275.4,715.6 1278.4,716.2 1281.4,716.9 1284.4,717.5 1287.4,718.2 1290.4,718.9 1293.4,719.6 1296.4,720.3 1299.4,721.0 1302.4,721.7 1305.4,722.5 1308.4,723.2 1311.5,724.0 1314.5,724.8 1317.5,725.5 1320.5,726.3 1323.5,727.2 1326.5,728.0 1329.5,728.8 1332.5,729.7 1335.5,730.5 1338.5,731.4 1341.5,732.2 1344.5,733.1 1347.5,734.0 1350.5,734.9 1353.5,735.8 1356.5,736.7 1359.5,737.7 1362.5,738.6 1365.5,739.5 1368.5,740.5 1371.5,741.4 1374.6,742.4 1377.6,743.3 1380.6,744.3 1383.6,745.2 1386.6,746.2 1389.6,747.2 1392.6,748.2 1395.6,749.1 1398.6,750.1 1401.6,751.1 1404.6,752.1 1407.6,753.0 1410.6,754.0 1413.6,755.0 1416.6,756.0 1419.6,757.0 1422.6,757.9 1425.6,758.9 1428.6,759.9 1431.6,760.9 1434.6,761.9 1437.7,762.8 1440.7,763.8 1443.7,764.8 1446.7,765.8 1449.7,766.8 1452.7,767.7 1455.7,768.7 1458.7,769.7 1461.7,770.7 1464.7,771.6 1467.7,772.6 1470.7,773.6 1473.7,774.6 1476.7,775.5 1479.7,776.5 1482.7,777.5 1485.7,778.5 1488.7,779.4 1491.7,780.4 1494.7,781.4 1497.7,782.3 1500.8,783.3 1503.8,784.3 1506.8,785.2 1509.8,786.2 1512.8,787.2 1515.8,788.1 1518.8,789.1 1521.8,790.0 1524.8,791.0 1527.8,792.0 1530.8,792.9 1533.8,793.9 1536.8,794.8 1539.8,795.8 1542.8,796.7 1545.8,797.7 1548.8,798.6 1551.8,799.6 1554.8,800.5 1557.8,801.5 1560.8,802.4 1563.9,803.3 1566.9,804.3 1569.9,805.2 1572.9,806.2 1575.9,807.1 1578.9,808.0 1581.9,809.0 1584.9,809.9 1587.9,810.8 1590.9,811.7 1593.9,812.6 1596.9,813.6 1599.9,814.5 1602.9,815.4 1605.9,816.3 1608.9,817.2 1611.9,818.1 1614.9,819.0 1617.9,819.9 1620.9,820.8 1623.9,821.7 1627.0,822.6 1630.0,823.5 1633.0,824.4 1636.0,825.3 1639.0,826.2 1642.0,827.1 1645.0,828.0 1648.0,828.9 1651.0,829.7 1654.0,830.6 1657.0,831.5 1660.0,832.4 1663.0,833.2 1666.0,834.1 1669.0,834.9 1672.0,835.8 1675.0,836.7 1678.0,837.5 1681.0,838.4 1684.0,839.2 1687.0,840.0 1690.0,840.9 1693.1,841.7 1696.1,842.5 1699.1,843.4 1702.1,844.2 1705.1,845.0 1708.1,845.8 1711.1,846.7 1714.1,847.5 1717.1,848.3 1720.1,849.1 1723.1,849.9 1726.1,850.7 1729.1,851.5 1732.1,852.3 1735.1,853.1 1738.1,853.9 1741.1,854.6 1744.1,855.4 1747.1,856.2 1750.1,857.0 1753.1,857.7 1756.2,858.5 1759.2,859.2 1762.2,860.0 1765.2,860.7 1768.2,861.5 1771.2,862.2 1774.2,863.0 1777.2,863.7 1780.2,864.4 1783.2,865.2 1786.2,865.9 1789.2,866.6 1792.2,867.3 1795.2,868.0 1798.2,868.7 1801.2,869.4 1804.2,870.1 1807.2,870.8 1810.2,871.5 1813.2,872.2 1816.2,872.9 1819.3,873.5 1822.3,874.2 1825.3,874.9 1828.3,875.5 1831.3,876.2 1834.3,876.8 1837.3,877.5 1840.3,878.1 1843.3,878.7 1846.3,879.4 1849.3,880.0 1852.3,880.6 1855.3,881.2 1858.3,881.8 1861.3,882.4 1864.3,883.0 1867.3,883.6 1870.3,884.2 1873.3,884.8 1876.3,885.4 1879.3,886.0 1882.4,886.5 1885.4,887.1 1888.4,887.6 1891.4,888.2 1894.4,888.7 1897.4,889.3 1900.4,889.8 1903.4,890.4 1906.4,890.9 1909.4,891.4 1912.4,891.9 1915.4,892.4 1918.4,892.9 1921.4,893.4 1924.4,893.9 1927.4,894.4 1930.4,894.9 1933.4,895.4 1936.4,895.9 1939.4,896.4 1942.4,896.8 1945.5,897.3 1948.5,897.8 1951.5,898.2 1954.5,898.7 1957.5,899.1 1960.5,899.6 1963.5,900.0 1966.5,900.5 1969.5,900.9 1972.5,901.3 1975.5,901.7 1978.5,902.2 1981.5,902.6 1984.5,903.0 1987.5,903.4 1990.5,903.8 1993.5,904.2 1996.5,904.6 1999.5,905.0 2002.5,905.4 2005.5,905.8 2008.6,906.2 2011.6,906.5 2014.6,906.9 2017.6,907.3 2020.6,907.7 2023.6,908.0 2026.6,908.4 2029.6,908.7 2032.6,909.1 2035.6,909.4 2038.6,909.8 2041.6,910.1 2044.6,910.5 2047.6,910.8 2050.6,911.2 2053.6,911.5 2056.6,911.8 2059.6,912.2 2062.6,912.5 2065.6,912.8 2068.6,913.1 2071.7,913.4 2074.7,913.7 2077.7,914.1 2080.7,914.4 2083.7,914.7 2086.7,915.0 2089.7,915.3 2092.7,915.6 2095.7,915.9 2098.7,916.2 2101.7,916.4 2104.7,916.7 2107.7,917.0 2110.7,917.3 2113.7,917.6 2116.7,917.9 2119.7,918.1 2122.7,918.4 2125.7,918.7 2128.7,919.0 2131.7,919.2 2134.7,919.5 2137.8,919.8 2140.8,920.0 2143.8,920.3 2146.8,920.5 2149.8,920.8 2152.8,921.0 2155.8,921.3 2158.8,921.6 2161.8,921.8 2164.8,922.1 2167.8,922.3 2170.8,922.5 2173.8,922.8 2176.8,923.0 2179.8,923.3 2182.8,923.5 2185.8,923.7 2188.8,924.0 2191.8,924.2 2194.8,924.5 2197.8,924.7 2200.9,924.9 2203.9,925.2 2206.9,925.4 2209.9,925.6 2212.9,925.8 2215.9,926.1 2218.9,926.3 2221.9,926.5 2224.9,926.7 2227.9,927.0 2230.9,927.2 2233.9,927.4 2236.9,927.6 2239.9,927.9 2242.9,928.1 2245.9,928.3 2248.9,928.5 2251.9,928.7 2254.9,928.9 2257.9,929.2 2260.9,929.4 2264.0,929.6 2267.0,929.8 2270.0,930.0 2273.0,930.2 2276.0,930.5 2279.0,930.7 2282.0,930.9 2285.0,931.1 2288.0,931.3 2291.0,931.5 2294.0,931.8" stroke="#7f7f7f" stroke-dasharray="25 25" stroke-dashoffset="49.8"/>
</g>
<text x="1112.7" y="1188" font-size="78" text-anchor="start" textLength="578" lengthAdjust="spacingAndGlyphs">Wavelength (nm)</text>
<text transform="translate(279.5,1079) rotate(-90)" x="0" y="0" font-size="79" textLength="929" lengthAdjust="spacingAndGlyphs">Fluorescence intensity (a.u.)</text>
<line x1="401.9" y1="1289.5" x2="613.9" y2="1289.5" stroke="#000" stroke-width="13" stroke-linecap="round"/>
<line x1="850.7" y1="1289.5" x2="1062.7" y2="1289.5" stroke="#7f7f7f" stroke-width="13" stroke-linecap="round" stroke-dasharray="38 50"/>
<line x1="1298.1" y1="1289.5" x2="1510.1" y2="1289.5" stroke="#7f7f7f" stroke-width="13" stroke-linecap="round" stroke-dasharray="38 50 0.01 50"/>
<line x1="1746.5" y1="1289.5" x2="1958.5" y2="1289.5" stroke="#7f7f7f" stroke-width="13" stroke-linecap="round" stroke-dasharray="25 25"/>
<text x="631.6" y="1312" font-size="79.5" text-anchor="start" textLength="163" lengthAdjust="spacingAndGlyphs">25°C</text>
<text x="1080.8" y="1312" font-size="79.5" text-anchor="start" textLength="163" lengthAdjust="spacingAndGlyphs">75°C</text>
<text x="1529.5" y="1312" font-size="79.5" text-anchor="start" textLength="163" lengthAdjust="spacingAndGlyphs">85°C</text>
<text x="1977.3" y="1312" font-size="79.5" text-anchor="start" textLength="163" lengthAdjust="spacingAndGlyphs">95°C</text>
<line x1="523.6" y1="1545.5" x2="523.6" y2="2396.7" stroke="#bfbfbf" stroke-width="7.6"/>
<line x1="497" y1="2370.0" x2="2301" y2="2370.0" stroke="#bfbfbf" stroke-width="7.6"/>
<line x1="497" y1="2370.0" x2="523.6" y2="2370.0" stroke="#bfbfbf" stroke-width="7.6"/>
<line x1="497" y1="2232.6" x2="523.6" y2="2232.6" stroke="#bfbfbf" stroke-width="7.6"/>
<line x1="497" y1="2095.2" x2="523.6" y2="2095.2" stroke="#bfbfbf" stroke-width="7.6"/>
<line x1="497" y1="1957.7" x2="523.6" y2="1957.7" stroke="#bfbfbf" stroke-width="7.6"/>
<line x1="497" y1="1820.3" x2="523.6" y2="1820.3" stroke="#bfbfbf" stroke-width="7.6"/>
<line x1="497" y1="1682.9" x2="523.6" y2="1682.9" stroke="#bfbfbf" stroke-width="7.6"/>
<line x1="497" y1="1545.5" x2="524.6" y2="1545.5" stroke="#bfbfbf" stroke-width="7.6"/>
<line x1="523.6" y1="2370.0" x2="523.6" y2="2396.7" stroke="#bfbfbf" stroke-width="7.6"/>
<line x1="846.8" y1="2370.0" x2="846.8" y2="2396.7" stroke="#bfbfbf" stroke-width="7.6"/>
<line x1="1170.0" y1="2370.0" x2="1170.0" y2="2396.7" stroke="#bfbfbf" stroke-width="7.6"/>
<line x1="1493.2" y1="2370.0" x2="1493.2" y2="2396.7" stroke="#bfbfbf" stroke-width="7.6"/>
<line x1="1816.4" y1="2370.0" x2="1816.4" y2="2396.7" stroke="#bfbfbf" stroke-width="7.6"/>
<line x1="2139.6" y1="2370.0" x2="2139.6" y2="2396.7" stroke="#bfbfbf" stroke-width="7.6"/>
<text x="446.5" y="2392.0" font-size="79.5" text-anchor="end">0</text>
<text x="446.5" y="2254.6" font-size="79.5" text-anchor="end" textLength="115" lengthAdjust="spacingAndGlyphs">100</text>
<text x="446.5" y="2117.2" font-size="79.5" text-anchor="end" textLength="115" lengthAdjust="spacingAndGlyphs">200</text>
<text x="446.5" y="1979.7" font-size="79.5" text-anchor="end" textLength="115" lengthAdjust="spacingAndGlyphs">300</text>
<text x="446.5" y="1842.3" font-size="79.5" text-anchor="end" textLength="115" lengthAdjust="spacingAndGlyphs">400</text>
<text x="446.5" y="1704.9" font-size="79.5" text-anchor="end" textLength="115" lengthAdjust="spacingAndGlyphs">500</text>
<text x="446.5" y="1567.5" font-size="79.5" text-anchor="end" textLength="115" lengthAdjust="spacingAndGlyphs">600</text>
<text x="522.1" y="2502.5" font-size="79.5" text-anchor="middle" textLength="115" lengthAdjust="spacingAndGlyphs">310</text>
<text x="845.3" y="2502.5" font-size="79.5" text-anchor="middle" textLength="115" lengthAdjust="spacingAndGlyphs">330</text>
<text x="1168.5" y="2502.5" font-size="79.5" text-anchor="middle" textLength="115" lengthAdjust="spacingAndGlyphs">350</text>
<text x="1491.7" y="2502.5" font-size="79.5" text-anchor="middle" textLength="115" lengthAdjust="spacingAndGlyphs">370</text>
<text x="1814.9" y="2502.5" font-size="79.5" text-anchor="middle" textLength="115" lengthAdjust="spacingAndGlyphs">390</text>
<text x="2138.1" y="2502.5" font-size="79.5" text-anchor="middle" textLength="115" lengthAdjust="spacingAndGlyphs">410</text>
<clipPath id="cb"><rect x="522" y="1500" width="1784" height="900"/></clipPath>
<g clip-path="url(#cb)" fill="none" stroke-linecap="round" stroke-linejoin="round" stroke-width="14">
<path d="M523.6,1970.2 526.6,1967.0 529.6,1963.8 532.6,1960.5 535.6,1957.1 538.6,1953.7 541.6,1950.2 544.6,1946.6 547.6,1943.0 550.6,1939.4 553.6,1935.7 556.6,1932.0 559.6,1928.2 562.6,1924.4 565.6,1920.6 568.6,1916.8 571.6,1913.0 574.6,1909.1 577.6,1905.3 580.6,1901.4 583.6,1897.6 586.6,1893.7 589.6,1889.9 592.6,1886.1 595.6,1882.3 598.6,1878.4 601.6,1874.6 604.6,1870.9 607.6,1867.1 610.6,1863.3 613.6,1859.6 616.6,1855.9 619.6,1852.2 622.6,1848.5 625.6,1844.9 628.6,1841.3 631.6,1837.7 634.6,1834.1 637.6,1830.6 640.6,1827.1 643.6,1823.7 646.6,1820.3 649.6,1816.9 652.6,1813.5 655.6,1810.3 658.6,1807.0 661.6,1803.8 664.6,1800.6 667.6,1797.5 670.6,1794.3 673.6,1791.3 676.6,1788.2 679.6,1785.2 682.6,1782.3 685.6,1779.4 688.6,1776.5 691.6,1773.6 694.6,1770.8 697.6,1768.0 700.6,1765.2 703.6,1762.5 706.6,1759.8 709.6,1757.1 712.6,1754.4 715.6,1751.8 718.6,1749.2 721.6,1746.6 724.6,1744.1 727.6,1741.6 730.6,1739.1 733.6,1736.6 736.6,1734.2 739.6,1731.8 742.6,1729.4 745.6,1727.1 748.7,1724.8 751.7,1722.5 754.7,1720.2 757.7,1718.0 760.7,1715.7 763.7,1713.6 766.7,1711.4 769.7,1709.3 772.7,1707.2 775.7,1705.1 778.7,1703.1 781.7,1701.1 784.7,1699.1 787.7,1697.1 790.7,1695.2 793.7,1693.3 796.7,1691.4 799.7,1689.6 802.7,1687.8 805.7,1686.0 808.7,1684.3 811.7,1682.5 814.7,1680.8 817.7,1679.2 820.7,1677.5 823.7,1675.9 826.7,1674.4 829.7,1672.8 832.7,1671.3 835.7,1669.8 838.7,1668.4 841.7,1666.9 844.7,1665.5 847.7,1664.2 850.7,1662.9 853.7,1661.5 856.7,1660.3 859.7,1659.0 862.7,1657.8 865.7,1656.6 868.7,1655.5 871.7,1654.4 874.7,1653.3 877.7,1652.2 880.7,1651.2 883.7,1650.2 886.7,1649.3 889.7,1648.3 892.7,1647.4 895.7,1646.6 898.7,1645.7 901.7,1644.9 904.7,1644.1 907.7,1643.4 910.7,1642.7 913.7,1642.0 916.7,1641.4 919.7,1640.8 922.7,1640.2 925.7,1639.6 928.7,1639.1 931.7,1638.6 934.7,1638.2 937.7,1637.8 940.7,1637.4 943.7,1637.0 946.7,1636.7 949.7,1636.4 952.7,1636.2 955.7,1636.0 958.7,1635.8 961.7,1635.6 964.7,1635.5 967.7,1635.4 970.7,1635.4 973.7,1635.3 976.7,1635.4 979.7,1635.4 982.7,1635.5 985.7,1635.5 988.7,1635.7 991.7,1635.8 994.7,1636.0 997.7,1636.2 1000.7,1636.4 1003.7,1636.7 1006.7,1636.9 1009.7,1637.2 1012.7,1637.5 1015.7,1637.9 1018.7,1638.2 1021.7,1638.6 1024.7,1639.0 1027.7,1639.4 1030.7,1639.8 1033.7,1640.3 1036.7,1640.7 1039.7,1641.2 1042.7,1641.7 1045.7,1642.2 1048.7,1642.7 1051.7,1643.2 1054.7,1643.7 1057.7,1644.3 1060.7,1644.8 1063.7,1645.4 1066.7,1645.9 1069.7,1646.5 1072.7,1647.1 1075.7,1647.7 1078.7,1648.3 1081.7,1648.9 1084.7,1649.5 1087.7,1650.1 1090.7,1650.7 1093.7,1651.3 1096.7,1651.9 1099.7,1652.5 1102.7,1653.1 1105.7,1653.7 1108.7,1654.3 1111.7,1654.9 1114.7,1655.5 1117.7,1656.1 1120.7,1656.8 1123.7,1657.4 1126.7,1658.0 1129.7,1658.7 1132.7,1659.4 1135.7,1660.0 1138.7,1660.7 1141.7,1661.4 1144.7,1662.1 1147.7,1662.9 1150.7,1663.6 1153.7,1664.4 1156.7,1665.2 1159.7,1666.0 1162.7,1666.8 1165.7,1667.6 1168.7,1668.5 1171.7,1669.4 1174.7,1670.3 1177.7,1671.2 1180.7,1672.2 1183.7,1673.2 1186.7,1674.2 1189.7,1675.2 1192.8,1676.3 1195.8,1677.4 1198.8,1678.6 1201.8,1679.7 1204.8,1681.0 1207.8,1682.2 1210.8,1683.5 1213.8,1684.8 1216.8,1686.1 1219.8,1687.4 1222.8,1688.8 1225.8,1690.3 1228.8,1691.7 1231.8,1693.2 1234.8,1694.7 1237.8,1696.2 1240.8,1697.8 1243.8,1699.4 1246.8,1701.0 1249.8,1702.6 1252.8,1704.3 1255.8,1705.9 1258.8,1707.6 1261.8,1709.4 1264.8,1711.1 1267.8,1712.9 1270.8,1714.7 1273.8,1716.5 1276.8,1718.4 1279.8,1720.2 1282.8,1722.1 1285.8,1724.0 1288.8,1725.9 1291.8,1727.9 1294.8,1729.8 1297.8,1731.8 1300.8,1733.8 1303.8,1735.8 1306.8,1737.8 1309.8,1739.9 1312.8,1741.9 1315.8,1744.0 1318.8,1746.1 1321.8,1748.2 1324.8,1750.3 1327.8,1752.5 1330.8,1754.6 1333.8,1756.8 1336.8,1758.9 1339.8,1761.1 1342.8,1763.3 1345.8,1765.5 1348.8,1767.7 1351.8,1769.9 1354.8,1772.2 1357.8,1774.4 1360.8,1776.6 1363.8,1778.9 1366.8,1781.2 1369.8,1783.4 1372.8,1785.7 1375.8,1788.0 1378.8,1790.3 1381.8,1792.6 1384.8,1794.9 1387.8,1797.2 1390.8,1799.5 1393.8,1801.8 1396.8,1804.1 1399.8,1806.4 1402.8,1808.7 1405.8,1811.1 1408.8,1813.4 1411.8,1815.7 1414.8,1818.1 1417.8,1820.4 1420.8,1822.7 1423.8,1825.1 1426.8,1827.4 1429.8,1829.8 1432.8,1832.2 1435.8,1834.5 1438.8,1836.9 1441.8,1839.2 1444.8,1841.6 1447.8,1844.0 1450.8,1846.3 1453.8,1848.7 1456.8,1851.1 1459.8,1853.5 1462.8,1855.8 1465.8,1858.2 1468.8,1860.6 1471.8,1863.0 1474.8,1865.4 1477.8,1867.8 1480.8,1870.1 1483.8,1872.5 1486.8,1874.9 1489.8,1877.3 1492.8,1879.7 1495.8,1882.1 1498.8,1884.4 1501.8,1886.8 1504.8,1889.2 1507.8,1891.6 1510.8,1894.0 1513.8,1896.4 1516.8,1898.8 1519.8,1901.1 1522.8,1903.5 1525.8,1905.9 1528.8,1908.3 1531.8,1910.6 1534.8,1913.0 1537.8,1915.4 1540.8,1917.8 1543.8,1920.1 1546.8,1922.5 1549.8,1924.9 1552.8,1927.2 1555.8,1929.6 1558.8,1932.0 1561.8,1934.3 1564.8,1936.7 1567.8,1939.0 1570.8,1941.4 1573.8,1943.7 1576.8,1946.1 1579.8,1948.4 1582.8,1950.7 1585.8,1953.1 1588.8,1955.4 1591.8,1957.7 1594.8,1960.0 1597.8,1962.3 1600.8,1964.6 1603.8,1966.9 1606.8,1969.2 1609.8,1971.5 1612.8,1973.8 1615.8,1976.1 1618.8,1978.4 1621.8,1980.7 1624.8,1983.0 1627.8,1985.2 1630.8,1987.5 1633.8,1989.7 1636.8,1992.0 1639.9,1994.2 1642.9,1996.5 1645.9,1998.7 1648.9,2000.9 1651.9,2003.1 1654.9,2005.3 1657.9,2007.5 1660.9,2009.7 1663.9,2011.9 1666.9,2014.1 1669.9,2016.3 1672.9,2018.5 1675.9,2020.6 1678.9,2022.8 1681.9,2024.9 1684.9,2027.0 1687.9,2029.2 1690.9,2031.3 1693.9,2033.4 1696.9,2035.5 1699.9,2037.6 1702.9,2039.7 1705.9,2041.8 1708.9,2043.8 1711.9,2045.9 1714.9,2048.0 1717.9,2050.0 1720.9,2052.0 1723.9,2054.1 1726.9,2056.1 1729.9,2058.1 1732.9,2060.1 1735.9,2062.1 1738.9,2064.0 1741.9,2066.0 1744.9,2067.9 1747.9,2069.9 1750.9,2071.8 1753.9,2073.7 1756.9,2075.7 1759.9,2077.6 1762.9,2079.4 1765.9,2081.3 1768.9,2083.2 1771.9,2085.0 1774.9,2086.9 1777.9,2088.7 1780.9,2090.5 1783.9,2092.3 1786.9,2094.1 1789.9,2095.9 1792.9,2097.7 1795.9,2099.4 1798.9,2101.2 1801.9,2102.9 1804.9,2104.6 1807.9,2106.3 1810.9,2108.0 1813.9,2109.7 1816.9,2111.4 1819.9,2113.0 1822.9,2114.7 1825.9,2116.3 1828.9,2117.9 1831.9,2119.5 1834.9,2121.1 1837.9,2122.6 1840.9,2124.2 1843.9,2125.7 1846.9,2127.3 1849.9,2128.8 1852.9,2130.3 1855.9,2131.8 1858.9,2133.2 1861.9,2134.7 1864.9,2136.1 1867.9,2137.6 1870.9,2139.0 1873.9,2140.4 1876.9,2141.8 1879.9,2143.2 1882.9,2144.6 1885.9,2145.9 1888.9,2147.3 1891.9,2148.6 1894.9,2149.9 1897.9,2151.2 1900.9,2152.5 1903.9,2153.8 1906.9,2155.1 1909.9,2156.3 1912.9,2157.6 1915.9,2158.8 1918.9,2160.1 1921.9,2161.3 1924.9,2162.5 1927.9,2163.7 1930.9,2164.9 1933.9,2166.0 1936.9,2167.2 1939.9,2168.4 1942.9,2169.5 1945.9,2170.6 1948.9,2171.8 1951.9,2172.9 1954.9,2174.0 1957.9,2175.1 1960.9,2176.1 1963.9,2177.2 1966.9,2178.3 1969.9,2179.3 1972.9,2180.4 1975.9,2181.4 1978.9,2182.4 1981.9,2183.4 1984.9,2184.4 1987.9,2185.4 1990.9,2186.4 1993.9,2187.4 1996.9,2188.4 1999.9,2189.3 2002.9,2190.3 2005.9,2191.2 2008.9,2192.2 2011.9,2193.1 2014.9,2194.0 2017.9,2194.9 2020.9,2195.8 2023.9,2196.7 2026.9,2197.6 2029.9,2198.5 2032.9,2199.4 2035.9,2200.2 2038.9,2201.1 2041.9,2202.0 2044.9,2202.8 2047.9,2203.6 2050.9,2204.5 2053.9,2205.3 2056.9,2206.1 2059.9,2206.9 2062.9,2207.7 2065.9,2208.5 2068.9,2209.3 2071.9,2210.1 2074.9,2210.9 2077.9,2211.7 2080.9,2212.4 2084.0,2213.2 2087.0,2213.9 2090.0,2214.7 2093.0,2215.4 2096.0,2216.2 2099.0,2216.9 2102.0,2217.6 2105.0,2218.4 2108.0,2219.1 2111.0,2219.8 2114.0,2220.5 2117.0,2221.2 2120.0,2221.9 2123.0,2222.6 2126.0,2223.3 2129.0,2224.0 2132.0,2224.7 2135.0,2225.4 2138.0,2226.0 2141.0,2226.7 2144.0,2227.4 2147.0,2228.0 2150.0,2228.7 2153.0,2229.4 2156.0,2230.0 2159.0,2230.7 2162.0,2231.3 2165.0,2232.0 2168.0,2232.6 2171.0,2233.2 2174.0,2233.9 2177.0,2234.5 2180.0,2235.1 2183.0,2235.8 2186.0,2236.4 2189.0,2237.0 2192.0,2237.6 2195.0,2238.2 2198.0,2238.9 2201.0,2239.5 2204.0,2240.1 2207.0,2240.7 2210.0,2241.3 2213.0,2241.9 2216.0,2242.5 2219.0,2243.1 2222.0,2243.7 2225.0,2244.3 2228.0,2245.0 2231.0,2245.6 2234.0,2246.2 2237.0,2246.8 2240.0,2247.4 2243.0,2248.0 2246.0,2248.6 2249.0,2249.2 2252.0,2249.8 2255.0,2250.4 2258.0,2251.0 2261.0,2251.6 2264.0,2252.2 2267.0,2252.8 2270.0,2253.4 2273.0,2254.0 2276.0,2254.6 2279.0,2255.2 2282.0,2255.8 2285.0,2256.4 2288.0,2257.0 2291.0,2257.6 2294.0,2258.2 2297.0,2258.8 2300.0,2259.4 2303.0,2260.0 2306.0,2260.6" stroke="#000"/>
<path d="M523.6,2000.5 526.6,1996.2 529.6,1991.9 532.6,1987.6 535.6,1983.3 538.6,1979.1 541.6,1974.9 544.6,1970.8 547.6,1966.6 550.6,1962.5 553.6,1958.5 556.6,1954.5 559.6,1950.5 562.6,1946.5 565.6,1942.6 568.6,1938.7 571.6,1934.9 574.6,1931.0 577.6,1927.3 580.6,1923.5 583.6,1919.8 586.6,1916.2 589.6,1912.6 592.6,1909.0 595.6,1905.4 598.6,1901.9 601.6,1898.5 604.6,1895.0 607.6,1891.6 610.6,1888.3 613.6,1885.0 616.6,1881.7 619.6,1878.5 622.6,1875.2 625.6,1872.1 628.6,1869.0 631.6,1865.9 634.6,1862.8 637.6,1859.8 640.6,1856.8 643.6,1853.9 646.6,1851.0 649.6,1848.2 652.6,1845.3 655.6,1842.6 658.6,1839.8 661.6,1837.1 664.6,1834.5 667.6,1831.8 670.6,1829.3 673.6,1826.7 676.6,1824.2 679.6,1821.8 682.6,1819.4 685.6,1817.0 688.6,1814.7 691.6,1812.4 694.6,1810.2 697.6,1808.0 700.6,1805.8 703.6,1803.7 706.6,1801.7 709.6,1799.7 712.6,1797.7 715.6,1795.8 718.6,1794.0 721.6,1792.1 724.6,1790.4 727.6,1788.6 730.6,1787.0 733.6,1785.3 736.6,1783.7 739.6,1782.2 742.6,1780.7 745.6,1779.2 748.7,1777.8 751.7,1776.3 754.7,1775.0 757.7,1773.6 760.7,1772.3 763.7,1771.1 766.7,1769.8 769.7,1768.6 772.7,1767.4 775.7,1766.3 778.7,1765.1 781.7,1764.0 784.7,1762.9 787.7,1761.8 790.7,1760.8 793.7,1759.7 796.7,1758.7 799.7,1757.7 802.7,1756.7 805.7,1755.8 808.7,1754.8 811.7,1753.9 814.7,1753.0 817.7,1752.1 820.7,1751.2 823.7,1750.3 826.7,1749.5 829.7,1748.7 832.7,1747.9 835.7,1747.1 838.7,1746.3 841.7,1745.6 844.7,1744.9 847.7,1744.2 850.7,1743.5 853.7,1742.9 856.7,1742.3 859.7,1741.7 862.7,1741.1 865.7,1740.6 868.7,1740.1 871.7,1739.6 874.7,1739.2 877.7,1738.8 880.7,1738.4 883.7,1738.0 886.7,1737.7 889.7,1737.3 892.7,1737.1 895.7,1736.8 898.7,1736.6 901.7,1736.4 904.7,1736.2 907.7,1736.1 910.7,1735.9 913.7,1735.8 916.7,1735.8 919.7,1735.7 922.7,1735.7 925.7,1735.7 928.7,1735.7 931.7,1735.8 934.7,1735.8 937.7,1735.9 940.7,1736.1 943.7,1736.2 946.7,1736.4 949.7,1736.6 952.7,1736.8 955.7,1737.0 958.7,1737.3 961.7,1737.5 964.7,1737.8 967.7,1738.1 970.7,1738.5 973.7,1738.8 976.7,1739.2 979.7,1739.6 982.7,1740.0 985.7,1740.4 988.7,1740.9 991.7,1741.3 994.7,1741.8 997.7,1742.3 1000.7,1742.8 1003.7,1743.4 1006.7,1743.9 1009.7,1744.5 1012.7,1745.0 1015.7,1745.6 1018.7,1746.3 1021.7,1746.9 1024.7,1747.5 1027.7,1748.2 1030.7,1748.8 1033.7,1749.5 1036.7,1750.2 1039.7,1750.9 1042.7,1751.6 1045.7,1752.4 1048.7,1753.1 1051.7,1753.9 1054.7,1754.6 1057.7,1755.4 1060.7,1756.2 1063.7,1757.0 1066.7,1757.8 1069.7,1758.6 1072.7,1759.5 1075.7,1760.3 1078.7,1761.1 1081.7,1762.0 1084.7,1762.9 1087.7,1763.7 1090.7,1764.6 1093.7,1765.5 1096.7,1766.4 1099.7,1767.3 1102.7,1768.2 1105.7,1769.1 1108.7,1770.0 1111.7,1771.0 1114.7,1771.9 1117.7,1772.8 1120.7,1773.8 1123.7,1774.7 1126.7,1775.7 1129.7,1776.6 1132.7,1777.6 1135.7,1778.5 1138.7,1779.5 1141.7,1780.5 1144.7,1781.4 1147.7,1782.4 1150.7,1783.4 1153.7,1784.4 1156.7,1785.4 1159.7,1786.4 1162.7,1787.4 1165.7,1788.4 1168.7,1789.4 1171.7,1790.4 1174.7,1791.5 1177.7,1792.5 1180.7,1793.6 1183.7,1794.7 1186.7,1795.8 1189.7,1796.9 1192.8,1798.0 1195.8,1799.1 1198.8,1800.3 1201.8,1801.5 1204.8,1802.6 1207.8,1803.8 1210.8,1805.0 1213.8,1806.3 1216.8,1807.5 1219.8,1808.8 1222.8,1810.1 1225.8,1811.4 1228.8,1812.7 1231.8,1814.1 1234.8,1815.5 1237.8,1816.9 1240.8,1818.3 1243.8,1819.7 1246.8,1821.2 1249.8,1822.7 1252.8,1824.2 1255.8,1825.8 1258.8,1827.4 1261.8,1829.0 1264.8,1830.6 1267.8,1832.2 1270.8,1833.9 1273.8,1835.7 1276.8,1837.4 1279.8,1839.2 1282.8,1841.0 1285.8,1842.9 1288.8,1844.7 1291.8,1846.6 1294.8,1848.6 1297.8,1850.6 1300.8,1852.6 1303.8,1854.6 1306.8,1856.7 1309.8,1858.8 1312.8,1860.9 1315.8,1863.1 1318.8,1865.3 1321.8,1867.5 1324.8,1869.7 1327.8,1871.9 1330.8,1874.2 1333.8,1876.4 1336.8,1878.7 1339.8,1881.0 1342.8,1883.3 1345.8,1885.6 1348.8,1887.9 1351.8,1890.3 1354.8,1892.6 1357.8,1894.9 1360.8,1897.2 1363.8,1899.5 1366.8,1901.8 1369.8,1904.2 1372.8,1906.5 1375.8,1908.8 1378.8,1911.0 1381.8,1913.3 1384.8,1915.6 1387.8,1917.9 1390.8,1920.2 1393.8,1922.4 1396.8,1924.7 1399.8,1927.0 1402.8,1929.2 1405.8,1931.4 1408.8,1933.7 1411.8,1935.9 1414.8,1938.2 1417.8,1940.4 1420.8,1942.6 1423.8,1944.8 1426.8,1947.0 1429.8,1949.2 1432.8,1951.4 1435.8,1953.6 1438.8,1955.8 1441.8,1958.0 1444.8,1960.2 1447.8,1962.3 1450.8,1964.5 1453.8,1966.7 1456.8,1968.8 1459.8,1971.0 1462.8,1973.1 1465.8,1975.2 1468.8,1977.4 1471.8,1979.5 1474.8,1981.6 1477.8,1983.7 1480.8,1985.9 1483.8,1988.0 1486.8,1990.1 1489.8,1992.1 1492.8,1994.2 1495.8,1996.3 1498.8,1998.4 1501.8,2000.5 1504.8,2002.5 1507.8,2004.6 1510.8,2006.6 1513.8,2008.7 1516.8,2010.7 1519.8,2012.8 1522.8,2014.8 1525.8,2016.8 1528.8,2018.8 1531.8,2020.8 1534.8,2022.8 1537.8,2024.8 1540.8,2026.8 1543.8,2028.8 1546.8,2030.8 1549.8,2032.8 1552.8,2034.8 1555.8,2036.7 1558.8,2038.7 1561.8,2040.6 1564.8,2042.6 1567.8,2044.5 1570.8,2046.4 1573.8,2048.4 1576.8,2050.3 1579.8,2052.2 1582.8,2054.1 1585.8,2056.0 1588.8,2057.9 1591.8,2059.8 1594.8,2061.7 1597.8,2063.6 1600.8,2065.4 1603.8,2067.3 1606.8,2069.1 1609.8,2071.0 1612.8,2072.8 1615.8,2074.7 1618.8,2076.5 1621.8,2078.3 1624.8,2080.2 1627.8,2082.0 1630.8,2083.8 1633.8,2085.6 1636.8,2087.4 1639.9,2089.2 1642.9,2090.9 1645.9,2092.7 1648.9,2094.5 1651.9,2096.2 1654.9,2098.0 1657.9,2099.8 1660.9,2101.5 1663.9,2103.2 1666.9,2105.0 1669.9,2106.7 1672.9,2108.4 1675.9,2110.1 1678.9,2111.8 1681.9,2113.5 1684.9,2115.2 1687.9,2116.9 1690.9,2118.5 1693.9,2120.2 1696.9,2121.8 1699.9,2123.5 1702.9,2125.1 1705.9,2126.8 1708.9,2128.4 1711.9,2130.0 1714.9,2131.6 1717.9,2133.2 1720.9,2134.8 1723.9,2136.4 1726.9,2138.0 1729.9,2139.6 1732.9,2141.1 1735.9,2142.7 1738.9,2144.2 1741.9,2145.8 1744.9,2147.3 1747.9,2148.8 1750.9,2150.4 1753.9,2151.9 1756.9,2153.4 1759.9,2154.8 1762.9,2156.3 1765.9,2157.8 1768.9,2159.3 1771.9,2160.7 1774.9,2162.2 1777.9,2163.6 1780.9,2165.0 1783.9,2166.5 1786.9,2167.9 1789.9,2169.3 1792.9,2170.7 1795.9,2172.0 1798.9,2173.4 1801.9,2174.8 1804.9,2176.1 1807.9,2177.5 1810.9,2178.8 1813.9,2180.1 1816.9,2181.5 1819.9,2182.8 1822.9,2184.1 1825.9,2185.3 1828.9,2186.6 1831.9,2187.9 1834.9,2189.2 1837.9,2190.4 1840.9,2191.6 1843.9,2192.9 1846.9,2194.1 1849.9,2195.3 1852.9,2196.5 1855.9,2197.7 1858.9,2198.9 1861.9,2200.0 1864.9,2201.2 1867.9,2202.3 1870.9,2203.5 1873.9,2204.6 1876.9,2205.7 1879.9,2206.8 1882.9,2207.9 1885.9,2209.0 1888.9,2210.0 1891.9,2211.1 1894.9,2212.1 1897.9,2213.2 1900.9,2214.2 1903.9,2215.2 1906.9,2216.2 1909.9,2217.2 1912.9,2218.2 1915.9,2219.2 1918.9,2220.1 1921.9,2221.1 1924.9,2222.0 1927.9,2222.9 1930.9,2223.9 1933.9,2224.8 1936.9,2225.7 1939.9,2226.6 1942.9,2227.5 1945.9,2228.3 1948.9,2229.2 1951.9,2230.1 1954.9,2230.9 1957.9,2231.7 1960.9,2232.6 1963.9,2233.4 1966.9,2234.2 1969.9,2235.0 1972.9,2235.8 1975.9,2236.6 1978.9,2237.4 1981.9,2238.1 1984.9,2238.9 1987.9,2239.7 1990.9,2240.4 1993.9,2241.1 1996.9,2241.9 1999.9,2242.6 2002.9,2243.3 2005.9,2244.0 2008.9,2244.7 2011.9,2245.4 2014.9,2246.1 2017.9,2246.8 2020.9,2247.4 2023.9,2248.1 2026.9,2248.8 2029.9,2249.4 2032.9,2250.1 2035.9,2250.7 2038.9,2251.3 2041.9,2252.0 2044.9,2252.6 2047.9,2253.2 2050.9,2253.8 2053.9,2254.4 2056.9,2255.0 2059.9,2255.6 2062.9,2256.2 2065.9,2256.8 2068.9,2257.4 2071.9,2257.9 2074.9,2258.5 2077.9,2259.1 2080.9,2259.6 2084.0,2260.2 2087.0,2260.7 2090.0,2261.3 2093.0,2261.8 2096.0,2262.3 2099.0,2262.9 2102.0,2263.4 2105.0,2263.9 2108.0,2264.4 2111.0,2265.0 2114.0,2265.5 2117.0,2266.0 2120.0,2266.5 2123.0,2267.0 2126.0,2267.5 2129.0,2268.0 2132.0,2268.5 2135.0,2268.9 2138.0,2269.4 2141.0,2269.9 2144.0,2270.4 2147.0,2270.9 2150.0,2271.3 2153.0,2271.8 2156.0,2272.3 2159.0,2272.7 2162.0,2273.2 2165.0,2273.7 2168.0,2274.1 2171.0,2274.6 2174.0,2275.0 2177.0,2275.5 2180.0,2276.0 2183.0,2276.4 2186.0,2276.9 2189.0,2277.3 2192.0,2277.8 2195.0,2278.2 2198.0,2278.6 2201.0,2279.1 2204.0,2279.5 2207.0,2280.0 2210.0,2280.4 2213.0,2280.9 2216.0,2281.3 2219.0,2281.8 2222.0,2282.2 2225.0,2282.6 2228.0,2283.1 2231.0,2283.5 2234.0,2284.0 2237.0,2284.4 2240.0,2284.9 2243.0,2285.3 2246.0,2285.7 2249.0,2286.2 2252.0,2286.6 2255.0,2287.1 2258.0,2287.5 2261.0,2288.0 2264.0,2288.4 2267.0,2288.9 2270.0,2289.3 2273.0,2289.8 2276.0,2290.2 2279.0,2290.7 2282.0,2291.2 2285.0,2291.6 2288.0,2292.1 2291.0,2292.6 2294.0,2293.0 2297.0,2293.5 2300.0,2294.0 2303.0,2294.5 2306.0,2294.9" stroke="#7f7f7f" stroke-dasharray="37.77 49.70" stroke-dashoffset="86.8"/>
<path d="M523.6,2175.4 526.6,2173.2 529.6,2171.0 532.6,2168.9 535.6,2166.7 538.6,2164.5 541.6,2162.4 544.6,2160.3 547.6,2158.1 550.6,2156.0 553.6,2153.9 556.6,2151.8 559.6,2149.7 562.6,2147.6 565.6,2145.5 568.6,2143.4 571.6,2141.4 574.6,2139.3 577.6,2137.2 580.6,2135.2 583.6,2133.2 586.6,2131.1 589.6,2129.1 592.6,2127.1 595.6,2125.1 598.6,2123.1 601.6,2121.1 604.6,2119.2 607.6,2117.2 610.6,2115.3 613.6,2113.3 616.6,2111.4 619.6,2109.5 622.6,2107.6 625.6,2105.7 628.6,2103.8 631.6,2101.9 634.6,2100.0 637.6,2098.2 640.6,2096.3 643.6,2094.5 646.6,2092.7 649.6,2090.9 652.6,2089.1 655.6,2087.3 658.6,2085.5 661.6,2083.7 664.6,2082.0 667.6,2080.3 670.6,2078.5 673.6,2076.8 676.6,2075.1 679.6,2073.5 682.6,2071.8 685.6,2070.1 688.6,2068.5 691.6,2066.9 694.6,2065.2 697.6,2063.6 700.6,2062.1 703.6,2060.5 706.6,2058.9 709.6,2057.4 712.6,2055.9 715.6,2054.4 718.6,2052.9 721.6,2051.4 724.6,2049.9 727.6,2048.5 730.6,2047.0 733.6,2045.6 736.6,2044.2 739.6,2042.8 742.6,2041.4 745.6,2040.1 748.7,2038.7 751.7,2037.4 754.7,2036.1 757.7,2034.8 760.7,2033.5 763.7,2032.2 766.7,2031.0 769.7,2029.7 772.7,2028.5 775.7,2027.3 778.7,2026.1 781.7,2024.9 784.7,2023.7 787.7,2022.6 790.7,2021.5 793.7,2020.3 796.7,2019.2 799.7,2018.1 802.7,2017.0 805.7,2016.0 808.7,2014.9 811.7,2013.9 814.7,2012.9 817.7,2011.9 820.7,2010.9 823.7,2009.9 826.7,2008.9 829.7,2008.0 832.7,2007.1 835.7,2006.1 838.7,2005.2 841.7,2004.3 844.7,2003.5 847.7,2002.6 850.7,2001.8 853.7,2000.9 856.7,2000.1 859.7,1999.3 862.7,1998.5 865.7,1997.7 868.7,1997.0 871.7,1996.2 874.7,1995.5 877.7,1994.8 880.7,1994.1 883.7,1993.4 886.7,1992.7 889.7,1992.0 892.7,1991.4 895.7,1990.8 898.7,1990.1 901.7,1989.5 904.7,1988.9 907.7,1988.4 910.7,1987.8 913.7,1987.3 916.7,1986.7 919.7,1986.2 922.7,1985.7 925.7,1985.2 928.7,1984.7 931.7,1984.2 934.7,1983.8 937.7,1983.3 940.7,1982.9 943.7,1982.5 946.7,1982.1 949.7,1981.7 952.7,1981.3 955.7,1980.9 958.7,1980.6 961.7,1980.2 964.7,1979.9 967.7,1979.6 970.7,1979.3 973.7,1979.0 976.7,1978.7 979.7,1978.4 982.7,1978.1 985.7,1977.9 988.7,1977.6 991.7,1977.4 994.7,1977.1 997.7,1976.9 1000.7,1976.7 1003.7,1976.5 1006.7,1976.3 1009.7,1976.1 1012.7,1976.0 1015.7,1975.8 1018.7,1975.6 1021.7,1975.5 1024.7,1975.3 1027.7,1975.2 1030.7,1975.1 1033.7,1975.0 1036.7,1974.9 1039.7,1974.8 1042.7,1974.7 1045.7,1974.6 1048.7,1974.5 1051.7,1974.5 1054.7,1974.4 1057.7,1974.3 1060.7,1974.3 1063.7,1974.2 1066.7,1974.2 1069.7,1974.2 1072.7,1974.2 1075.7,1974.2 1078.7,1974.2 1081.7,1974.2 1084.7,1974.2 1087.7,1974.2 1090.7,1974.2 1093.7,1974.3 1096.7,1974.3 1099.7,1974.4 1102.7,1974.5 1105.7,1974.5 1108.7,1974.6 1111.7,1974.7 1114.7,1974.8 1117.7,1974.9 1120.7,1975.0 1123.7,1975.1 1126.7,1975.3 1129.7,1975.4 1132.7,1975.6 1135.7,1975.7 1138.7,1975.9 1141.7,1976.1 1144.7,1976.2 1147.7,1976.4 1150.7,1976.6 1153.7,1976.9 1156.7,1977.1 1159.7,1977.3 1162.7,1977.5 1165.7,1977.8 1168.7,1978.1 1171.7,1978.3 1174.7,1978.6 1177.7,1978.9 1180.7,1979.2 1183.7,1979.5 1186.7,1979.8 1189.7,1980.1 1192.8,1980.5 1195.8,1980.8 1198.8,1981.2 1201.8,1981.5 1204.8,1981.9 1207.8,1982.3 1210.8,1982.7 1213.8,1983.1 1216.8,1983.5 1219.8,1983.9 1222.8,1984.3 1225.8,1984.7 1228.8,1985.2 1231.8,1985.6 1234.8,1986.1 1237.8,1986.6 1240.8,1987.0 1243.8,1987.5 1246.8,1988.0 1249.8,1988.5 1252.8,1989.0 1255.8,1989.6 1258.8,1990.1 1261.8,1990.6 1264.8,1991.2 1267.8,1991.7 1270.8,1992.3 1273.8,1992.8 1276.8,1993.4 1279.8,1994.0 1282.8,1994.6 1285.8,1995.2 1288.8,1995.8 1291.8,1996.4 1294.8,1997.0 1297.8,1997.7 1300.8,1998.3 1303.8,1998.9 1306.8,1999.6 1309.8,2000.3 1312.8,2000.9 1315.8,2001.6 1318.8,2002.3 1321.8,2003.0 1324.8,2003.7 1327.8,2004.4 1330.8,2005.1 1333.8,2005.8 1336.8,2006.5 1339.8,2007.2 1342.8,2008.0 1345.8,2008.7 1348.8,2009.5 1351.8,2010.2 1354.8,2011.0 1357.8,2011.7 1360.8,2012.5 1363.8,2013.3 1366.8,2014.1 1369.8,2014.9 1372.8,2015.7 1375.8,2016.5 1378.8,2017.3 1381.8,2018.1 1384.8,2018.9 1387.8,2019.8 1390.8,2020.6 1393.8,2021.5 1396.8,2022.3 1399.8,2023.2 1402.8,2024.0 1405.8,2024.9 1408.8,2025.7 1411.8,2026.6 1414.8,2027.5 1417.8,2028.4 1420.8,2029.3 1423.8,2030.2 1426.8,2031.1 1429.8,2032.0 1432.8,2032.9 1435.8,2033.8 1438.8,2034.7 1441.8,2035.7 1444.8,2036.6 1447.8,2037.5 1450.8,2038.5 1453.8,2039.4 1456.8,2040.4 1459.8,2041.3 1462.8,2042.3 1465.8,2043.2 1468.8,2044.2 1471.8,2045.2 1474.8,2046.2 1477.8,2047.1 1480.8,2048.1 1483.8,2049.1 1486.8,2050.1 1489.8,2051.1 1492.8,2052.1 1495.8,2053.1 1498.8,2054.1 1501.8,2055.1 1504.8,2056.2 1507.8,2057.2 1510.8,2058.2 1513.8,2059.2 1516.8,2060.3 1519.8,2061.3 1522.8,2062.4 1525.8,2063.4 1528.8,2064.4 1531.8,2065.5 1534.8,2066.6 1537.8,2067.6 1540.8,2068.7 1543.8,2069.7 1546.8,2070.8 1549.8,2071.9 1552.8,2072.9 1555.8,2074.0 1558.8,2075.1 1561.8,2076.2 1564.8,2077.3 1567.8,2078.4 1570.8,2079.4 1573.8,2080.5 1576.8,2081.6 1579.8,2082.7 1582.8,2083.8 1585.8,2084.9 1588.8,2086.0 1591.8,2087.1 1594.8,2088.3 1597.8,2089.4 1600.8,2090.5 1603.8,2091.6 1606.8,2092.7 1609.8,2093.8 1612.8,2095.0 1615.8,2096.1 1618.8,2097.2 1621.8,2098.3 1624.8,2099.5 1627.8,2100.6 1630.8,2101.7 1633.8,2102.9 1636.8,2104.0 1639.9,2105.1 1642.9,2106.3 1645.9,2107.4 1648.9,2108.6 1651.9,2109.7 1654.9,2110.9 1657.9,2112.0 1660.9,2113.1 1663.9,2114.3 1666.9,2115.4 1669.9,2116.6 1672.9,2117.7 1675.9,2118.9 1678.9,2120.0 1681.9,2121.2 1684.9,2122.3 1687.9,2123.5 1690.9,2124.6 1693.9,2125.8 1696.9,2126.9 1699.9,2128.1 1702.9,2129.2 1705.9,2130.4 1708.9,2131.5 1711.9,2132.6 1714.9,2133.8 1717.9,2134.9 1720.9,2136.1 1723.9,2137.2 1726.9,2138.3 1729.9,2139.5 1732.9,2140.6 1735.9,2141.7 1738.9,2142.8 1741.9,2144.0 1744.9,2145.1 1747.9,2146.2 1750.9,2147.3 1753.9,2148.4 1756.9,2149.5 1759.9,2150.6 1762.9,2151.7 1765.9,2152.8 1768.9,2153.9 1771.9,2155.0 1774.9,2156.1 1777.9,2157.2 1780.9,2158.3 1783.9,2159.3 1786.9,2160.4 1789.9,2161.5 1792.9,2162.5 1795.9,2163.6 1798.9,2164.6 1801.9,2165.7 1804.9,2166.7 1807.9,2167.8 1810.9,2168.8 1813.9,2169.8 1816.9,2170.9 1819.9,2171.9 1822.9,2172.9 1825.9,2173.9 1828.9,2174.9 1831.9,2175.9 1834.9,2176.8 1837.9,2177.8 1840.9,2178.8 1843.9,2179.8 1846.9,2180.7 1849.9,2181.7 1852.9,2182.6 1855.9,2183.6 1858.9,2184.5 1861.9,2185.4 1864.9,2186.3 1867.9,2187.3 1870.9,2188.2 1873.9,2189.1 1876.9,2190.0 1879.9,2190.8 1882.9,2191.7 1885.9,2192.6 1888.9,2193.5 1891.9,2194.3 1894.9,2195.2 1897.9,2196.1 1900.9,2196.9 1903.9,2197.7 1906.9,2198.6 1909.9,2199.4 1912.9,2200.2 1915.9,2201.0 1918.9,2201.8 1921.9,2202.6 1924.9,2203.4 1927.9,2204.2 1930.9,2205.0 1933.9,2205.8 1936.9,2206.6 1939.9,2207.3 1942.9,2208.1 1945.9,2208.9 1948.9,2209.6 1951.9,2210.4 1954.9,2211.1 1957.9,2211.8 1960.9,2212.6 1963.9,2213.3 1966.9,2214.0 1969.9,2214.7 1972.9,2215.4 1975.9,2216.1 1978.9,2216.8 1981.9,2217.5 1984.9,2218.2 1987.9,2218.9 1990.9,2219.5 1993.9,2220.2 1996.9,2220.9 1999.9,2221.5 2002.9,2222.2 2005.9,2222.8 2008.9,2223.5 2011.9,2224.1 2014.9,2224.7 2017.9,2225.4 2020.9,2226.0 2023.9,2226.6 2026.9,2227.2 2029.9,2227.8 2032.9,2228.4 2035.9,2229.0 2038.9,2229.6 2041.9,2230.2 2044.9,2230.7 2047.9,2231.3 2050.9,2231.9 2053.9,2232.4 2056.9,2233.0 2059.9,2233.5 2062.9,2234.1 2065.9,2234.6 2068.9,2235.2 2071.9,2235.7 2074.9,2236.2 2077.9,2236.7 2080.9,2237.3 2084.0,2237.8 2087.0,2238.3 2090.0,2238.8 2093.0,2239.3 2096.0,2239.8 2099.0,2240.3 2102.0,2240.8 2105.0,2241.2 2108.0,2241.7 2111.0,2242.2 2114.0,2242.6 2117.0,2243.1 2120.0,2243.6 2123.0,2244.0 2126.0,2244.5 2129.0,2244.9 2132.0,2245.4 2135.0,2245.8 2138.0,2246.3 2141.0,2246.7 2144.0,2247.2 2147.0,2247.6 2150.0,2248.1 2153.0,2248.5 2156.0,2249.0 2159.0,2249.4 2162.0,2249.9 2165.0,2250.4 2168.0,2250.8 2171.0,2251.3 2174.0,2251.8 2177.0,2252.2 2180.0,2252.7 2183.0,2253.2 2186.0,2253.7 2189.0,2254.2 2192.0,2254.7 2195.0,2255.2 2198.0,2255.7 2201.0,2256.3 2204.0,2256.8 2207.0,2257.3 2210.0,2257.9 2213.0,2258.5 2216.0,2259.0 2219.0,2259.6 2222.0,2260.2 2225.0,2260.8 2228.0,2261.4 2231.0,2262.1 2234.0,2262.7 2237.0,2263.4 2240.0,2264.0 2243.0,2264.7 2246.0,2265.4 2249.0,2266.1 2252.0,2266.8 2255.0,2267.6 2258.0,2268.3 2261.0,2269.1 2264.0,2269.9 2267.0,2270.7 2270.0,2271.5 2273.0,2272.3 2276.0,2273.2 2279.0,2274.1 2282.0,2274.9 2285.0,2275.9 2288.0,2276.8 2291.0,2277.7 2294.0,2278.7 2297.0,2279.7 2300.0,2280.7 2303.0,2281.7 2306.0,2282.8" stroke="#a6a6a6" stroke-dasharray="37.86 49.82 0.01 49.82" stroke-dashoffset="0.8"/>
<path d="M523.6,2120.5 526.6,2118.8 529.6,2117.2 532.6,2115.5 535.6,2113.9 538.6,2112.3 541.6,2110.8 544.6,2109.2 547.6,2107.7 550.6,2106.2 553.6,2104.8 556.6,2103.4 559.6,2102.0 562.6,2100.6 565.6,2099.3 568.6,2098.0 571.6,2096.7 574.6,2095.4 577.6,2094.2 580.6,2093.0 583.6,2091.8 586.6,2090.6 589.6,2089.5 592.6,2088.4 595.6,2087.3 598.6,2086.2 601.6,2085.2 604.6,2084.2 607.6,2083.2 610.6,2082.2 613.6,2081.3 616.6,2080.4 619.6,2079.5 622.6,2078.6 625.6,2077.7 628.6,2076.9 631.6,2076.1 634.6,2075.3 637.6,2074.6 640.6,2073.8 643.6,2073.1 646.6,2072.4 649.6,2071.7 652.6,2071.1 655.6,2070.4 658.6,2069.8 661.6,2069.2 664.6,2068.6 667.6,2068.1 670.6,2067.5 673.6,2067.0 676.6,2066.5 679.6,2066.0 682.6,2065.6 685.6,2065.1 688.6,2064.7 691.6,2064.3 694.6,2063.9 697.6,2063.5 700.6,2063.2 703.6,2062.8 706.6,2062.5 709.6,2062.2 712.6,2061.9 715.6,2061.6 718.6,2061.4 721.6,2061.1 724.6,2060.9 727.6,2060.7 730.6,2060.5 733.6,2060.3 736.6,2060.1 739.6,2060.0 742.6,2059.8 745.6,2059.7 748.7,2059.6 751.7,2059.5 754.7,2059.4 757.7,2059.4 760.7,2059.3 763.7,2059.3 766.7,2059.2 769.7,2059.2 772.7,2059.2 775.7,2059.2 778.7,2059.2 781.7,2059.2 784.7,2059.3 787.7,2059.3 790.7,2059.4 793.7,2059.5 796.7,2059.5 799.7,2059.6 802.7,2059.7 805.7,2059.8 808.7,2060.0 811.7,2060.1 814.7,2060.2 817.7,2060.4 820.7,2060.5 823.7,2060.7 826.7,2060.9 829.7,2061.1 832.7,2061.3 835.7,2061.5 838.7,2061.7 841.7,2061.9 844.7,2062.1 847.7,2062.3 850.7,2062.6 853.7,2062.8 856.7,2063.1 859.7,2063.3 862.7,2063.6 865.7,2063.8 868.7,2064.1 871.7,2064.4 874.7,2064.7 877.7,2064.9 880.7,2065.2 883.7,2065.5 886.7,2065.8 889.7,2066.1 892.7,2066.4 895.7,2066.7 898.7,2067.0 901.7,2067.4 904.7,2067.7 907.7,2068.0 910.7,2068.3 913.7,2068.6 916.7,2069.0 919.7,2069.3 922.7,2069.6 925.7,2070.0 928.7,2070.3 931.7,2070.6 934.7,2071.0 937.7,2071.3 940.7,2071.6 943.7,2072.0 946.7,2072.3 949.7,2072.6 952.7,2073.0 955.7,2073.3 958.7,2073.7 961.7,2074.0 964.7,2074.3 967.7,2074.6 970.7,2075.0 973.7,2075.3 976.7,2075.6 979.7,2075.9 982.7,2076.3 985.7,2076.6 988.7,2076.9 991.7,2077.2 994.7,2077.5 997.7,2077.8 1000.7,2078.1 1003.7,2078.5 1006.7,2078.8 1009.7,2079.1 1012.7,2079.4 1015.7,2079.7 1018.7,2080.0 1021.7,2080.3 1024.7,2080.6 1027.7,2080.9 1030.7,2081.2 1033.7,2081.5 1036.7,2081.8 1039.7,2082.1 1042.7,2082.4 1045.7,2082.7 1048.7,2083.0 1051.7,2083.3 1054.7,2083.6 1057.7,2083.9 1060.7,2084.2 1063.7,2084.5 1066.7,2084.8 1069.7,2085.1 1072.7,2085.5 1075.7,2085.8 1078.7,2086.1 1081.7,2086.4 1084.7,2086.7 1087.7,2087.0 1090.7,2087.4 1093.7,2087.7 1096.7,2088.0 1099.7,2088.3 1102.7,2088.7 1105.7,2089.0 1108.7,2089.3 1111.7,2089.7 1114.7,2090.0 1117.7,2090.4 1120.7,2090.7 1123.7,2091.1 1126.7,2091.4 1129.7,2091.8 1132.7,2092.2 1135.7,2092.5 1138.7,2092.9 1141.7,2093.3 1144.7,2093.7 1147.7,2094.0 1150.7,2094.4 1153.7,2094.8 1156.7,2095.2 1159.7,2095.6 1162.7,2096.0 1165.7,2096.4 1168.7,2096.9 1171.7,2097.3 1174.7,2097.7 1177.7,2098.1 1180.7,2098.6 1183.7,2099.0 1186.7,2099.5 1189.7,2099.9 1192.8,2100.4 1195.8,2100.9 1198.8,2101.4 1201.8,2101.8 1204.8,2102.3 1207.8,2102.8 1210.8,2103.3 1213.8,2103.8 1216.8,2104.3 1219.8,2104.9 1222.8,2105.4 1225.8,2105.9 1228.8,2106.5 1231.8,2107.0 1234.8,2107.6 1237.8,2108.2 1240.8,2108.7 1243.8,2109.3 1246.8,2109.9 1249.8,2110.5 1252.8,2111.1 1255.8,2111.7 1258.8,2112.3 1261.8,2112.9 1264.8,2113.5 1267.8,2114.2 1270.8,2114.8 1273.8,2115.4 1276.8,2116.1 1279.8,2116.7 1282.8,2117.4 1285.8,2118.1 1288.8,2118.7 1291.8,2119.4 1294.8,2120.1 1297.8,2120.8 1300.8,2121.5 1303.8,2122.2 1306.8,2122.9 1309.8,2123.6 1312.8,2124.3 1315.8,2125.0 1318.8,2125.7 1321.8,2126.5 1324.8,2127.2 1327.8,2127.9 1330.8,2128.7 1333.8,2129.4 1336.8,2130.2 1339.8,2130.9 1342.8,2131.7 1345.8,2132.4 1348.8,2133.2 1351.8,2134.0 1354.8,2134.8 1357.8,2135.5 1360.8,2136.3 1363.8,2137.1 1366.8,2137.9 1369.8,2138.7 1372.8,2139.5 1375.8,2140.3 1378.8,2141.1 1381.8,2141.9 1384.8,2142.7 1387.8,2143.5 1390.8,2144.4 1393.8,2145.2 1396.8,2146.0 1399.8,2146.8 1402.8,2147.7 1405.8,2148.5 1408.8,2149.3 1411.8,2150.2 1414.8,2151.0 1417.8,2151.9 1420.8,2152.7 1423.8,2153.6 1426.8,2154.4 1429.8,2155.3 1432.8,2156.1 1435.8,2157.0 1438.8,2157.8 1441.8,2158.7 1444.8,2159.6 1447.8,2160.4 1450.8,2161.3 1453.8,2162.2 1456.8,2163.0 1459.8,2163.9 1462.8,2164.8 1465.8,2165.7 1468.8,2166.5 1471.8,2167.4 1474.8,2168.3 1477.8,2169.2 1480.8,2170.1 1483.8,2170.9 1486.8,2171.8 1489.8,2172.7 1492.8,2173.6 1495.8,2174.5 1498.8,2175.4 1501.8,2176.3 1504.8,2177.1 1507.8,2178.0 1510.8,2178.9 1513.8,2179.8 1516.8,2180.7 1519.8,2181.6 1522.8,2182.5 1525.8,2183.4 1528.8,2184.3 1531.8,2185.2 1534.8,2186.0 1537.8,2186.9 1540.8,2187.8 1543.8,2188.7 1546.8,2189.6 1549.8,2190.5 1552.8,2191.4 1555.8,2192.3 1558.8,2193.1 1561.8,2194.0 1564.8,2194.9 1567.8,2195.8 1570.8,2196.7 1573.8,2197.6 1576.8,2198.4 1579.8,2199.3 1582.8,2200.2 1585.8,2201.1 1588.8,2201.9 1591.8,2202.8 1594.8,2203.7 1597.8,2204.5 1600.8,2205.4 1603.8,2206.3 1606.8,2207.1 1609.8,2208.0 1612.8,2208.9 1615.8,2209.7 1618.8,2210.6 1621.8,2211.4 1624.8,2212.3 1627.8,2213.1 1630.8,2214.0 1633.8,2214.8 1636.8,2215.7 1639.9,2216.5 1642.9,2217.3 1645.9,2218.2 1648.9,2219.0 1651.9,2219.8 1654.9,2220.6 1657.9,2221.5 1660.9,2222.3 1663.9,2223.1 1666.9,2223.9 1669.9,2224.7 1672.9,2225.5 1675.9,2226.3 1678.9,2227.1 1681.9,2227.9 1684.9,2228.7 1687.9,2229.5 1690.9,2230.2 1693.9,2231.0 1696.9,2231.8 1699.9,2232.6 1702.9,2233.3 1705.9,2234.1 1708.9,2234.9 1711.9,2235.6 1714.9,2236.4 1717.9,2237.1 1720.9,2237.9 1723.9,2238.6 1726.9,2239.3 1729.9,2240.1 1732.9,2240.8 1735.9,2241.5 1738.9,2242.3 1741.9,2243.0 1744.9,2243.7 1747.9,2244.4 1750.9,2245.1 1753.9,2245.8 1756.9,2246.5 1759.9,2247.2 1762.9,2247.9 1765.9,2248.6 1768.9,2249.2 1771.9,2249.9 1774.9,2250.6 1777.9,2251.3 1780.9,2251.9 1783.9,2252.6 1786.9,2253.2 1789.9,2253.9 1792.9,2254.5 1795.9,2255.2 1798.9,2255.8 1801.9,2256.4 1804.9,2257.0 1807.9,2257.7 1810.9,2258.3 1813.9,2258.9 1816.9,2259.5 1819.9,2260.1 1822.9,2260.7 1825.9,2261.3 1828.9,2261.9 1831.9,2262.5 1834.9,2263.0 1837.9,2263.6 1840.9,2264.2 1843.9,2264.7 1846.9,2265.3 1849.9,2265.8 1852.9,2266.4 1855.9,2266.9 1858.9,2267.5 1861.9,2268.0 1864.9,2268.5 1867.9,2269.0 1870.9,2269.6 1873.9,2270.1 1876.9,2270.6 1879.9,2271.1 1882.9,2271.6 1885.9,2272.1 1888.9,2272.5 1891.9,2273.0 1894.9,2273.5 1897.9,2273.9 1900.9,2274.4 1903.9,2274.9 1906.9,2275.3 1909.9,2275.7 1912.9,2276.2 1915.9,2276.6 1918.9,2277.0 1921.9,2277.5 1924.9,2277.9 1927.9,2278.3 1930.9,2278.7 1933.9,2279.1 1936.9,2279.5 1939.9,2279.9 1942.9,2280.3 1945.9,2280.6 1948.9,2281.0 1951.9,2281.4 1954.9,2281.8 1957.9,2282.1 1960.9,2282.5 1963.9,2282.8 1966.9,2283.2 1969.9,2283.5 1972.9,2283.9 1975.9,2284.2 1978.9,2284.5 1981.9,2284.9 1984.9,2285.2 1987.9,2285.5 1990.9,2285.8 1993.9,2286.2 1996.9,2286.5 1999.9,2286.8 2002.9,2287.1 2005.9,2287.4 2008.9,2287.7 2011.9,2288.0 2014.9,2288.3 2017.9,2288.6 2020.9,2288.9 2023.9,2289.1 2026.9,2289.4 2029.9,2289.7 2032.9,2290.0 2035.9,2290.3 2038.9,2290.5 2041.9,2290.8 2044.9,2291.1 2047.9,2291.4 2050.9,2291.6 2053.9,2291.9 2056.9,2292.1 2059.9,2292.4 2062.9,2292.7 2065.9,2292.9 2068.9,2293.2 2071.9,2293.4 2074.9,2293.7 2077.9,2293.9 2080.9,2294.2 2084.0,2294.4 2087.0,2294.7 2090.0,2294.9 2093.0,2295.2 2096.0,2295.4 2099.0,2295.7 2102.0,2295.9 2105.0,2296.2 2108.0,2296.4 2111.0,2296.6 2114.0,2296.9 2117.0,2297.1 2120.0,2297.4 2123.0,2297.6 2126.0,2297.8 2129.0,2298.1 2132.0,2298.3 2135.0,2298.6 2138.0,2298.8 2141.0,2299.1 2144.0,2299.3 2147.0,2299.5 2150.0,2299.8 2153.0,2300.0 2156.0,2300.3 2159.0,2300.5 2162.0,2300.8 2165.0,2301.0 2168.0,2301.3 2171.0,2301.5 2174.0,2301.8 2177.0,2302.1 2180.0,2302.3 2183.0,2302.6 2186.0,2302.9 2189.0,2303.2 2192.0,2303.5 2195.0,2303.8 2198.0,2304.1 2201.0,2304.4 2204.0,2304.8 2207.0,2305.1 2210.0,2305.5 2213.0,2305.8 2216.0,2306.2 2219.0,2306.6 2222.0,2307.0 2225.0,2307.4 2228.0,2307.8 2231.0,2308.3 2234.0,2308.7 2237.0,2309.2 2240.0,2309.7 2243.0,2310.2 2246.0,2310.7 2249.0,2311.2 2252.0,2311.8 2255.0,2312.3 2258.0,2312.9 2261.0,2313.5 2264.0,2314.2 2267.0,2314.8 2270.0,2315.5 2273.0,2316.2 2276.0,2316.9 2279.0,2317.6 2282.0,2318.4 2285.0,2319.1 2288.0,2319.9 2291.0,2320.8 2294.0,2321.6 2297.0,2322.5 2300.0,2323.4 2303.0,2324.3 2306.0,2325.3" stroke="#7f7f7f" stroke-dasharray="25 25" stroke-dashoffset="48.6"/>
</g>
<text x="1087.2" y="2580.3" font-size="84" text-anchor="start" textLength="637.5" lengthAdjust="spacingAndGlyphs">Wavelength (nm)</text>
<text transform="translate(290,2582) rotate(-90)" x="0" y="0" font-size="86" textLength="1027" lengthAdjust="spacingAndGlyphs">Fluorescence intensity (a.u.)</text>
<line x1="389.4" y1="2684.7" x2="598.8" y2="2684.7" stroke="#000" stroke-width="14" stroke-linecap="round"/>
<line x1="873.8" y1="2684.7" x2="1083.2" y2="2684.7" stroke="#7f7f7f" stroke-width="14" stroke-linecap="round" stroke-dasharray="38 50"/>
<line x1="1358.8" y1="2684.7" x2="1568.2" y2="2684.7" stroke="#a6a6a6" stroke-width="14" stroke-linecap="round" stroke-dasharray="38 50 0.01 50"/>
<line x1="1843.7" y1="2684.7" x2="2053.1" y2="2684.7" stroke="#7f7f7f" stroke-width="14" stroke-linecap="round" stroke-dasharray="25 25"/>
<text x="620" y="2706" font-size="79.5" text-anchor="start" textLength="162" lengthAdjust="spacingAndGlyphs">25°C</text>
<text x="1105" y="2706" font-size="79.5" text-anchor="start" textLength="162" lengthAdjust="spacingAndGlyphs">75°C</text>
<text x="1590.7" y="2706" font-size="79.5" text-anchor="start" textLength="162" lengthAdjust="spacingAndGlyphs">85°C</text>
<text x="2074.9" y="2706" font-size="79.5" text-anchor="start" textLength="162" lengthAdjust="spacingAndGlyphs">95°C</text>
</svg>
</body></html>
